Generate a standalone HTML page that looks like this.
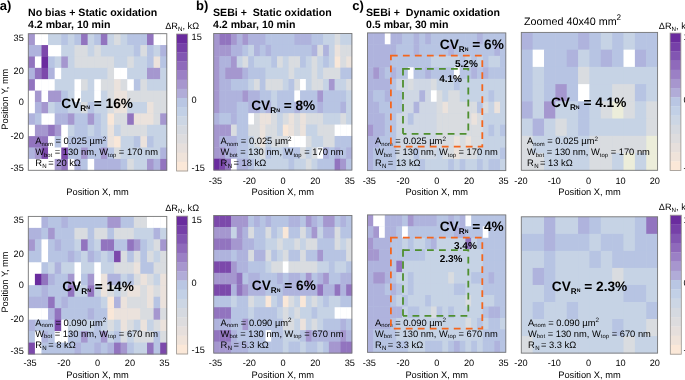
<!DOCTYPE html>
<html><head><meta charset="utf-8"><style>
html,body{margin:0;padding:0;background:#fff;width:685px;height:380px;overflow:hidden;}
svg{display:block;font-family:"Liberation Sans", sans-serif;will-change:transform;}
</style></head><body><svg width="685" height="380" viewBox="0 0 685 380" font-family='"Liberation Sans", sans-serif' fill="#000"><g><rect x="28.3" y="33.7" width="138.5" height="136.60000000000002" fill="#c6d3e5"/><rect x="28.30" y="33.70" width="6.90" height="11.68" fill="#a597cf"/><rect x="34.90" y="33.70" width="6.90" height="11.68" fill="#ffffff"/><rect x="41.49" y="33.70" width="6.90" height="11.68" fill="#ffffff"/><rect x="48.09" y="33.70" width="6.90" height="11.68" fill="#c6d3e5"/><rect x="54.68" y="33.70" width="6.90" height="11.68" fill="#c6d3e5"/><rect x="61.28" y="33.70" width="6.90" height="11.68" fill="#b7c4e3"/><rect x="67.87" y="33.70" width="6.90" height="11.68" fill="#c6d3e5"/><rect x="74.47" y="33.70" width="6.90" height="11.68" fill="#b7c4e3"/><rect x="81.06" y="33.70" width="6.90" height="11.68" fill="#9274bf"/><rect x="87.66" y="33.70" width="6.90" height="11.68" fill="#c6d3e5"/><rect x="94.25" y="33.70" width="6.90" height="11.68" fill="#b7c4e3"/><rect x="100.85" y="33.70" width="6.90" height="11.68" fill="#9274bf"/><rect x="107.44" y="33.70" width="6.90" height="11.68" fill="#c6d3e5"/><rect x="114.04" y="33.70" width="6.90" height="11.68" fill="#d9dce0"/><rect x="120.63" y="33.70" width="6.90" height="11.68" fill="#c6d3e5"/><rect x="127.23" y="33.70" width="6.90" height="11.68" fill="#b7c4e3"/><rect x="133.82" y="33.70" width="6.90" height="11.68" fill="#b7c4e3"/><rect x="140.42" y="33.70" width="6.90" height="11.68" fill="#b7c4e3"/><rect x="147.01" y="33.70" width="6.90" height="11.68" fill="#9274bf"/><rect x="153.61" y="33.70" width="6.90" height="11.68" fill="#ffffff"/><rect x="160.20" y="33.70" width="6.90" height="11.68" fill="#ffffff"/><rect x="28.30" y="45.08" width="6.90" height="11.68" fill="#afb3dd"/><rect x="34.90" y="45.08" width="6.90" height="11.68" fill="#afb3dd"/><rect x="41.49" y="45.08" width="6.90" height="11.68" fill="#7c49ab"/><rect x="48.09" y="45.08" width="6.90" height="11.68" fill="#ffffff"/><rect x="54.68" y="45.08" width="6.90" height="11.68" fill="#ffffff"/><rect x="61.28" y="45.08" width="6.90" height="11.68" fill="#c6d3e5"/><rect x="67.87" y="45.08" width="6.90" height="11.68" fill="#c6d3e5"/><rect x="74.47" y="45.08" width="6.90" height="11.68" fill="#d9dce0"/><rect x="81.06" y="45.08" width="6.90" height="11.68" fill="#d9dce0"/><rect x="87.66" y="45.08" width="6.90" height="11.68" fill="#c6d3e5"/><rect x="94.25" y="45.08" width="6.90" height="11.68" fill="#d9dce0"/><rect x="100.85" y="45.08" width="6.90" height="11.68" fill="#c6d3e5"/><rect x="107.44" y="45.08" width="6.90" height="11.68" fill="#c6d3e5"/><rect x="114.04" y="45.08" width="6.90" height="11.68" fill="#c6d3e5"/><rect x="120.63" y="45.08" width="6.90" height="11.68" fill="#c6d3e5"/><rect x="127.23" y="45.08" width="6.90" height="11.68" fill="#c6d3e5"/><rect x="133.82" y="45.08" width="6.90" height="11.68" fill="#b7c4e3"/><rect x="140.42" y="45.08" width="6.90" height="11.68" fill="#d9dce0"/><rect x="147.01" y="45.08" width="6.90" height="11.68" fill="#b7c4e3"/><rect x="153.61" y="45.08" width="6.90" height="11.68" fill="#c6d3e5"/><rect x="160.20" y="45.08" width="6.90" height="11.68" fill="#afb3dd"/><rect x="28.30" y="56.47" width="6.90" height="11.68" fill="#9274bf"/><rect x="34.90" y="56.47" width="6.90" height="11.68" fill="#ffffff"/><rect x="41.49" y="56.47" width="6.90" height="11.68" fill="#6a2c9e"/><rect x="48.09" y="56.47" width="6.90" height="11.68" fill="#b7c4e3"/><rect x="54.68" y="56.47" width="6.90" height="11.68" fill="#c6d3e5"/><rect x="61.28" y="56.47" width="6.90" height="11.68" fill="#a597cf"/><rect x="67.87" y="56.47" width="6.90" height="11.68" fill="#c6d3e5"/><rect x="74.47" y="56.47" width="6.90" height="11.68" fill="#d9dce0"/><rect x="81.06" y="56.47" width="6.90" height="11.68" fill="#d9dce0"/><rect x="87.66" y="56.47" width="6.90" height="11.68" fill="#d9dce0"/><rect x="94.25" y="56.47" width="6.90" height="11.68" fill="#d9dce0"/><rect x="100.85" y="56.47" width="6.90" height="11.68" fill="#d9dce0"/><rect x="107.44" y="56.47" width="6.90" height="11.68" fill="#d9dce0"/><rect x="114.04" y="56.47" width="6.90" height="11.68" fill="#c6d3e5"/><rect x="120.63" y="56.47" width="6.90" height="11.68" fill="#c6d3e5"/><rect x="127.23" y="56.47" width="6.90" height="11.68" fill="#d9dce0"/><rect x="133.82" y="56.47" width="6.90" height="11.68" fill="#c6d3e5"/><rect x="140.42" y="56.47" width="6.90" height="11.68" fill="#c6d3e5"/><rect x="147.01" y="56.47" width="6.90" height="11.68" fill="#b7c4e3"/><rect x="153.61" y="56.47" width="6.90" height="11.68" fill="#ebe2dc"/><rect x="160.20" y="56.47" width="6.90" height="11.68" fill="#b7c4e3"/><rect x="28.30" y="67.85" width="6.90" height="11.68" fill="#afb3dd"/><rect x="34.90" y="67.85" width="6.90" height="11.68" fill="#9274bf"/><rect x="41.49" y="67.85" width="6.90" height="11.68" fill="#7c49ab"/><rect x="48.09" y="67.85" width="6.90" height="11.68" fill="#afb3dd"/><rect x="54.68" y="67.85" width="6.90" height="11.68" fill="#ffffff"/><rect x="61.28" y="67.85" width="6.90" height="11.68" fill="#c6d3e5"/><rect x="67.87" y="67.85" width="6.90" height="11.68" fill="#c6d3e5"/><rect x="74.47" y="67.85" width="6.90" height="11.68" fill="#c6d3e5"/><rect x="81.06" y="67.85" width="6.90" height="11.68" fill="#c6d3e5"/><rect x="87.66" y="67.85" width="6.90" height="11.68" fill="#c6d3e5"/><rect x="94.25" y="67.85" width="6.90" height="11.68" fill="#c6d3e5"/><rect x="100.85" y="67.85" width="6.90" height="11.68" fill="#c6d3e5"/><rect x="107.44" y="67.85" width="6.90" height="11.68" fill="#d9dce0"/><rect x="114.04" y="67.85" width="6.90" height="11.68" fill="#ffffff"/><rect x="120.63" y="67.85" width="6.90" height="11.68" fill="#ffffff"/><rect x="127.23" y="67.85" width="6.90" height="11.68" fill="#c6d3e5"/><rect x="133.82" y="67.85" width="6.90" height="11.68" fill="#c6d3e5"/><rect x="140.42" y="67.85" width="6.90" height="11.68" fill="#c6d3e5"/><rect x="147.01" y="67.85" width="6.90" height="11.68" fill="#a597cf"/><rect x="153.61" y="67.85" width="6.90" height="11.68" fill="#a597cf"/><rect x="160.20" y="67.85" width="6.90" height="11.68" fill="#c6d3e5"/><rect x="28.30" y="79.23" width="6.90" height="11.68" fill="#9274bf"/><rect x="34.90" y="79.23" width="6.90" height="11.68" fill="#ffffff"/><rect x="41.49" y="79.23" width="6.90" height="11.68" fill="#ffffff"/><rect x="48.09" y="79.23" width="6.90" height="11.68" fill="#ffffff"/><rect x="54.68" y="79.23" width="6.90" height="11.68" fill="#c6d3e5"/><rect x="61.28" y="79.23" width="6.90" height="11.68" fill="#c6d3e5"/><rect x="67.87" y="79.23" width="6.90" height="11.68" fill="#c6d3e5"/><rect x="74.47" y="79.23" width="6.90" height="11.68" fill="#ffffff"/><rect x="81.06" y="79.23" width="6.90" height="11.68" fill="#d9dce0"/><rect x="87.66" y="79.23" width="6.90" height="11.68" fill="#c6d3e5"/><rect x="94.25" y="79.23" width="6.90" height="11.68" fill="#ffffff"/><rect x="100.85" y="79.23" width="6.90" height="11.68" fill="#d9dce0"/><rect x="107.44" y="79.23" width="6.90" height="11.68" fill="#d9dce0"/><rect x="114.04" y="79.23" width="6.90" height="11.68" fill="#ebe2dc"/><rect x="120.63" y="79.23" width="6.90" height="11.68" fill="#d9dce0"/><rect x="127.23" y="79.23" width="6.90" height="11.68" fill="#ffffff"/><rect x="133.82" y="79.23" width="6.90" height="11.68" fill="#b7c4e3"/><rect x="140.42" y="79.23" width="6.90" height="11.68" fill="#d9dce0"/><rect x="147.01" y="79.23" width="6.90" height="11.68" fill="#c6d3e5"/><rect x="153.61" y="79.23" width="6.90" height="11.68" fill="#c6d3e5"/><rect x="160.20" y="79.23" width="6.90" height="11.68" fill="#c6d3e5"/><rect x="28.30" y="90.62" width="6.90" height="11.68" fill="#ffffff"/><rect x="34.90" y="90.62" width="6.90" height="11.68" fill="#a597cf"/><rect x="41.49" y="90.62" width="6.90" height="11.68" fill="#ffffff"/><rect x="48.09" y="90.62" width="6.90" height="11.68" fill="#a597cf"/><rect x="54.68" y="90.62" width="6.90" height="11.68" fill="#a597cf"/><rect x="61.28" y="90.62" width="6.90" height="11.68" fill="#b7c4e3"/><rect x="67.87" y="90.62" width="6.90" height="11.68" fill="#c6d3e5"/><rect x="74.47" y="90.62" width="6.90" height="11.68" fill="#ffffff"/><rect x="81.06" y="90.62" width="6.90" height="11.68" fill="#c6d3e5"/><rect x="87.66" y="90.62" width="6.90" height="11.68" fill="#c6d3e5"/><rect x="94.25" y="90.62" width="6.90" height="11.68" fill="#ffffff"/><rect x="100.85" y="90.62" width="6.90" height="11.68" fill="#c6d3e5"/><rect x="107.44" y="90.62" width="6.90" height="11.68" fill="#d9dce0"/><rect x="114.04" y="90.62" width="6.90" height="11.68" fill="#ebe2dc"/><rect x="120.63" y="90.62" width="6.90" height="11.68" fill="#ebe2dc"/><rect x="127.23" y="90.62" width="6.90" height="11.68" fill="#d9dce0"/><rect x="133.82" y="90.62" width="6.90" height="11.68" fill="#d9dce0"/><rect x="140.42" y="90.62" width="6.90" height="11.68" fill="#d9dce0"/><rect x="147.01" y="90.62" width="6.90" height="11.68" fill="#d9dce0"/><rect x="153.61" y="90.62" width="6.90" height="11.68" fill="#d9dce0"/><rect x="160.20" y="90.62" width="6.90" height="11.68" fill="#d9dce0"/><rect x="28.30" y="102.00" width="6.90" height="11.68" fill="#ffffff"/><rect x="34.90" y="102.00" width="6.90" height="11.68" fill="#afb3dd"/><rect x="41.49" y="102.00" width="6.90" height="11.68" fill="#a597cf"/><rect x="48.09" y="102.00" width="6.90" height="11.68" fill="#c6d3e5"/><rect x="54.68" y="102.00" width="6.90" height="11.68" fill="#b7c4e3"/><rect x="61.28" y="102.00" width="6.90" height="11.68" fill="#b7c4e3"/><rect x="67.87" y="102.00" width="6.90" height="11.68" fill="#c6d3e5"/><rect x="74.47" y="102.00" width="6.90" height="11.68" fill="#c6d3e5"/><rect x="81.06" y="102.00" width="6.90" height="11.68" fill="#d9dce0"/><rect x="87.66" y="102.00" width="6.90" height="11.68" fill="#b7c4e3"/><rect x="94.25" y="102.00" width="6.90" height="11.68" fill="#c6d3e5"/><rect x="100.85" y="102.00" width="6.90" height="11.68" fill="#c6d3e5"/><rect x="107.44" y="102.00" width="6.90" height="11.68" fill="#d9dce0"/><rect x="114.04" y="102.00" width="6.90" height="11.68" fill="#ebe2dc"/><rect x="120.63" y="102.00" width="6.90" height="11.68" fill="#ebe2dc"/><rect x="127.23" y="102.00" width="6.90" height="11.68" fill="#c6d3e5"/><rect x="133.82" y="102.00" width="6.90" height="11.68" fill="#c6d3e5"/><rect x="140.42" y="102.00" width="6.90" height="11.68" fill="#c6d3e5"/><rect x="147.01" y="102.00" width="6.90" height="11.68" fill="#ebe2dc"/><rect x="153.61" y="102.00" width="6.90" height="11.68" fill="#d9dce0"/><rect x="160.20" y="102.00" width="6.90" height="11.68" fill="#d9dce0"/><rect x="28.30" y="113.38" width="6.90" height="11.68" fill="#afb3dd"/><rect x="34.90" y="113.38" width="6.90" height="11.68" fill="#b7c4e3"/><rect x="41.49" y="113.38" width="6.90" height="11.68" fill="#ffffff"/><rect x="48.09" y="113.38" width="6.90" height="11.68" fill="#ffffff"/><rect x="54.68" y="113.38" width="6.90" height="11.68" fill="#afb3dd"/><rect x="61.28" y="113.38" width="6.90" height="11.68" fill="#afb3dd"/><rect x="67.87" y="113.38" width="6.90" height="11.68" fill="#a597cf"/><rect x="74.47" y="113.38" width="6.90" height="11.68" fill="#b7c4e3"/><rect x="81.06" y="113.38" width="6.90" height="11.68" fill="#b7c4e3"/><rect x="87.66" y="113.38" width="6.90" height="11.68" fill="#a597cf"/><rect x="94.25" y="113.38" width="6.90" height="11.68" fill="#b7c4e3"/><rect x="100.85" y="113.38" width="6.90" height="11.68" fill="#c6d3e5"/><rect x="107.44" y="113.38" width="6.90" height="11.68" fill="#f9e7d8"/><rect x="114.04" y="113.38" width="6.90" height="11.68" fill="#d9dce0"/><rect x="120.63" y="113.38" width="6.90" height="11.68" fill="#d9dce0"/><rect x="127.23" y="113.38" width="6.90" height="11.68" fill="#9274bf"/><rect x="133.82" y="113.38" width="6.90" height="11.68" fill="#ebe2dc"/><rect x="140.42" y="113.38" width="6.90" height="11.68" fill="#ebe2dc"/><rect x="147.01" y="113.38" width="6.90" height="11.68" fill="#ebe2dc"/><rect x="153.61" y="113.38" width="6.90" height="11.68" fill="#d9dce0"/><rect x="160.20" y="113.38" width="6.90" height="11.68" fill="#a597cf"/><rect x="28.30" y="124.77" width="6.90" height="11.68" fill="#ffffff"/><rect x="34.90" y="124.77" width="6.90" height="11.68" fill="#a597cf"/><rect x="41.49" y="124.77" width="6.90" height="11.68" fill="#a597cf"/><rect x="48.09" y="124.77" width="6.90" height="11.68" fill="#9274bf"/><rect x="54.68" y="124.77" width="6.90" height="11.68" fill="#a597cf"/><rect x="61.28" y="124.77" width="6.90" height="11.68" fill="#ffffff"/><rect x="67.87" y="124.77" width="6.90" height="11.68" fill="#c6d3e5"/><rect x="74.47" y="124.77" width="6.90" height="11.68" fill="#b7c4e3"/><rect x="81.06" y="124.77" width="6.90" height="11.68" fill="#b7c4e3"/><rect x="87.66" y="124.77" width="6.90" height="11.68" fill="#c6d3e5"/><rect x="94.25" y="124.77" width="6.90" height="11.68" fill="#b7c4e3"/><rect x="100.85" y="124.77" width="6.90" height="11.68" fill="#c6d3e5"/><rect x="107.44" y="124.77" width="6.90" height="11.68" fill="#ebe2dc"/><rect x="114.04" y="124.77" width="6.90" height="11.68" fill="#c6d3e5"/><rect x="120.63" y="124.77" width="6.90" height="11.68" fill="#d9dce0"/><rect x="127.23" y="124.77" width="6.90" height="11.68" fill="#d9dce0"/><rect x="133.82" y="124.77" width="6.90" height="11.68" fill="#d9dce0"/><rect x="140.42" y="124.77" width="6.90" height="11.68" fill="#d9dce0"/><rect x="147.01" y="124.77" width="6.90" height="11.68" fill="#c6d3e5"/><rect x="153.61" y="124.77" width="6.90" height="11.68" fill="#c6d3e5"/><rect x="160.20" y="124.77" width="6.90" height="11.68" fill="#c6d3e5"/><rect x="28.30" y="136.15" width="6.90" height="11.68" fill="#9274bf"/><rect x="34.90" y="136.15" width="6.90" height="11.68" fill="#9274bf"/><rect x="41.49" y="136.15" width="6.90" height="11.68" fill="#9274bf"/><rect x="48.09" y="136.15" width="6.90" height="11.68" fill="#ffffff"/><rect x="54.68" y="136.15" width="6.90" height="11.68" fill="#b7c4e3"/><rect x="61.28" y="136.15" width="6.90" height="11.68" fill="#ffffff"/><rect x="67.87" y="136.15" width="6.90" height="11.68" fill="#b7c4e3"/><rect x="74.47" y="136.15" width="6.90" height="11.68" fill="#b7c4e3"/><rect x="81.06" y="136.15" width="6.90" height="11.68" fill="#b7c4e3"/><rect x="87.66" y="136.15" width="6.90" height="11.68" fill="#b7c4e3"/><rect x="94.25" y="136.15" width="6.90" height="11.68" fill="#b7c4e3"/><rect x="100.85" y="136.15" width="6.90" height="11.68" fill="#b7c4e3"/><rect x="107.44" y="136.15" width="6.90" height="11.68" fill="#ebe2dc"/><rect x="114.04" y="136.15" width="6.90" height="11.68" fill="#f9e7d8"/><rect x="120.63" y="136.15" width="6.90" height="11.68" fill="#c6d3e5"/><rect x="127.23" y="136.15" width="6.90" height="11.68" fill="#c6d3e5"/><rect x="133.82" y="136.15" width="6.90" height="11.68" fill="#b7c4e3"/><rect x="140.42" y="136.15" width="6.90" height="11.68" fill="#ebe2dc"/><rect x="147.01" y="136.15" width="6.90" height="11.68" fill="#b7c4e3"/><rect x="153.61" y="136.15" width="6.90" height="11.68" fill="#c6d3e5"/><rect x="160.20" y="136.15" width="6.90" height="11.68" fill="#c6d3e5"/><rect x="28.30" y="147.53" width="6.90" height="11.68" fill="#afb3dd"/><rect x="34.90" y="147.53" width="6.90" height="11.68" fill="#a597cf"/><rect x="41.49" y="147.53" width="6.90" height="11.68" fill="#7c49ab"/><rect x="48.09" y="147.53" width="6.90" height="11.68" fill="#ffffff"/><rect x="54.68" y="147.53" width="6.90" height="11.68" fill="#ffffff"/><rect x="61.28" y="147.53" width="6.90" height="11.68" fill="#7c49ab"/><rect x="67.87" y="147.53" width="6.90" height="11.68" fill="#b7c4e3"/><rect x="74.47" y="147.53" width="6.90" height="11.68" fill="#b7c4e3"/><rect x="81.06" y="147.53" width="6.90" height="11.68" fill="#a597cf"/><rect x="87.66" y="147.53" width="6.90" height="11.68" fill="#b7c4e3"/><rect x="94.25" y="147.53" width="6.90" height="11.68" fill="#b7c4e3"/><rect x="100.85" y="147.53" width="6.90" height="11.68" fill="#a597cf"/><rect x="107.44" y="147.53" width="6.90" height="11.68" fill="#b7c4e3"/><rect x="114.04" y="147.53" width="6.90" height="11.68" fill="#d9dce0"/><rect x="120.63" y="147.53" width="6.90" height="11.68" fill="#c6d3e5"/><rect x="127.23" y="147.53" width="6.90" height="11.68" fill="#c6d3e5"/><rect x="133.82" y="147.53" width="6.90" height="11.68" fill="#c6d3e5"/><rect x="140.42" y="147.53" width="6.90" height="11.68" fill="#c6d3e5"/><rect x="147.01" y="147.53" width="6.90" height="11.68" fill="#c6d3e5"/><rect x="153.61" y="147.53" width="6.90" height="11.68" fill="#c6d3e5"/><rect x="160.20" y="147.53" width="6.90" height="11.68" fill="#afb3dd"/><rect x="28.30" y="158.92" width="6.90" height="11.68" fill="#ffffff"/><rect x="34.90" y="158.92" width="6.90" height="11.68" fill="#ffffff"/><rect x="41.49" y="158.92" width="6.90" height="11.68" fill="#ffffff"/><rect x="48.09" y="158.92" width="6.90" height="11.68" fill="#ffffff"/><rect x="54.68" y="158.92" width="6.90" height="11.68" fill="#a597cf"/><rect x="61.28" y="158.92" width="6.90" height="11.68" fill="#9274bf"/><rect x="67.87" y="158.92" width="6.90" height="11.68" fill="#ffffff"/><rect x="74.47" y="158.92" width="6.90" height="11.68" fill="#afb3dd"/><rect x="81.06" y="158.92" width="6.90" height="11.68" fill="#b7c4e3"/><rect x="87.66" y="158.92" width="6.90" height="11.68" fill="#ffffff"/><rect x="94.25" y="158.92" width="6.90" height="11.68" fill="#afb3dd"/><rect x="100.85" y="158.92" width="6.90" height="11.68" fill="#afb3dd"/><rect x="107.44" y="158.92" width="6.90" height="11.68" fill="#afb3dd"/><rect x="114.04" y="158.92" width="6.90" height="11.68" fill="#afb3dd"/><rect x="120.63" y="158.92" width="6.90" height="11.68" fill="#b7c4e3"/><rect x="127.23" y="158.92" width="6.90" height="11.68" fill="#d9dce0"/><rect x="133.82" y="158.92" width="6.90" height="11.68" fill="#c6d3e5"/><rect x="140.42" y="158.92" width="6.90" height="11.68" fill="#c6d3e5"/><rect x="147.01" y="158.92" width="6.90" height="11.68" fill="#a597cf"/><rect x="153.61" y="158.92" width="6.90" height="11.68" fill="#afb3dd"/><rect x="160.20" y="158.92" width="6.90" height="11.68" fill="#9274bf"/><rect x="28.3" y="33.7" width="138.5" height="136.60000000000002" fill="none" stroke="#777" stroke-width="0.9"/><rect x="213.7" y="33.5" width="138.2" height="136.6" fill="#c6d3e5"/><rect x="213.70" y="33.50" width="6.06" height="11.68" fill="#a597cf"/><rect x="219.46" y="33.50" width="6.06" height="11.68" fill="#9274bf"/><rect x="225.22" y="33.50" width="6.06" height="11.68" fill="#9274bf"/><rect x="230.97" y="33.50" width="6.06" height="11.68" fill="#a597cf"/><rect x="236.73" y="33.50" width="6.06" height="11.68" fill="#afb3dd"/><rect x="242.49" y="33.50" width="6.06" height="11.68" fill="#a597cf"/><rect x="248.25" y="33.50" width="6.06" height="11.68" fill="#afb3dd"/><rect x="254.01" y="33.50" width="6.06" height="11.68" fill="#afb3dd"/><rect x="259.77" y="33.50" width="6.06" height="11.68" fill="#afb3dd"/><rect x="265.52" y="33.50" width="6.06" height="11.68" fill="#b7c4e3"/><rect x="271.28" y="33.50" width="6.06" height="11.68" fill="#b7c4e3"/><rect x="277.04" y="33.50" width="6.06" height="11.68" fill="#b7c4e3"/><rect x="282.80" y="33.50" width="6.06" height="11.68" fill="#b7c4e3"/><rect x="288.56" y="33.50" width="6.06" height="11.68" fill="#b7c4e3"/><rect x="294.32" y="33.50" width="6.06" height="11.68" fill="#afb3dd"/><rect x="300.07" y="33.50" width="6.06" height="11.68" fill="#afb3dd"/><rect x="305.83" y="33.50" width="6.06" height="11.68" fill="#afb3dd"/><rect x="311.59" y="33.50" width="6.06" height="11.68" fill="#b7c4e3"/><rect x="317.35" y="33.50" width="6.06" height="11.68" fill="#b7c4e3"/><rect x="323.11" y="33.50" width="6.06" height="11.68" fill="#c6d3e5"/><rect x="328.87" y="33.50" width="6.06" height="11.68" fill="#c6d3e5"/><rect x="334.62" y="33.50" width="6.06" height="11.68" fill="#d9dce0"/><rect x="340.38" y="33.50" width="6.06" height="11.68" fill="#c6d3e5"/><rect x="346.14" y="33.50" width="6.06" height="11.68" fill="#c6d3e5"/><rect x="213.70" y="44.88" width="6.06" height="11.68" fill="#a597cf"/><rect x="219.46" y="44.88" width="6.06" height="11.68" fill="#a597cf"/><rect x="225.22" y="44.88" width="6.06" height="11.68" fill="#a597cf"/><rect x="230.97" y="44.88" width="6.06" height="11.68" fill="#afb3dd"/><rect x="236.73" y="44.88" width="6.06" height="11.68" fill="#afb3dd"/><rect x="242.49" y="44.88" width="6.06" height="11.68" fill="#b7c4e3"/><rect x="248.25" y="44.88" width="6.06" height="11.68" fill="#c6d3e5"/><rect x="254.01" y="44.88" width="6.06" height="11.68" fill="#afb3dd"/><rect x="259.77" y="44.88" width="6.06" height="11.68" fill="#b7c4e3"/><rect x="265.52" y="44.88" width="6.06" height="11.68" fill="#afb3dd"/><rect x="271.28" y="44.88" width="6.06" height="11.68" fill="#b7c4e3"/><rect x="277.04" y="44.88" width="6.06" height="11.68" fill="#b7c4e3"/><rect x="282.80" y="44.88" width="6.06" height="11.68" fill="#b7c4e3"/><rect x="288.56" y="44.88" width="6.06" height="11.68" fill="#b7c4e3"/><rect x="294.32" y="44.88" width="6.06" height="11.68" fill="#b7c4e3"/><rect x="300.07" y="44.88" width="6.06" height="11.68" fill="#b7c4e3"/><rect x="305.83" y="44.88" width="6.06" height="11.68" fill="#b7c4e3"/><rect x="311.59" y="44.88" width="6.06" height="11.68" fill="#afb3dd"/><rect x="317.35" y="44.88" width="6.06" height="11.68" fill="#d9dce0"/><rect x="323.11" y="44.88" width="6.06" height="11.68" fill="#afb3dd"/><rect x="328.87" y="44.88" width="6.06" height="11.68" fill="#c6d3e5"/><rect x="334.62" y="44.88" width="6.06" height="11.68" fill="#ebe2dc"/><rect x="340.38" y="44.88" width="6.06" height="11.68" fill="#d9dce0"/><rect x="346.14" y="44.88" width="6.06" height="11.68" fill="#d9dce0"/><rect x="213.70" y="56.27" width="6.06" height="11.68" fill="#a597cf"/><rect x="219.46" y="56.27" width="6.06" height="11.68" fill="#afb3dd"/><rect x="225.22" y="56.27" width="6.06" height="11.68" fill="#afb3dd"/><rect x="230.97" y="56.27" width="6.06" height="11.68" fill="#a597cf"/><rect x="236.73" y="56.27" width="6.06" height="11.68" fill="#c6d3e5"/><rect x="242.49" y="56.27" width="6.06" height="11.68" fill="#d9dce0"/><rect x="248.25" y="56.27" width="6.06" height="11.68" fill="#b7c4e3"/><rect x="254.01" y="56.27" width="6.06" height="11.68" fill="#c6d3e5"/><rect x="259.77" y="56.27" width="6.06" height="11.68" fill="#c6d3e5"/><rect x="265.52" y="56.27" width="6.06" height="11.68" fill="#c6d3e5"/><rect x="271.28" y="56.27" width="6.06" height="11.68" fill="#b7c4e3"/><rect x="277.04" y="56.27" width="6.06" height="11.68" fill="#d9dce0"/><rect x="282.80" y="56.27" width="6.06" height="11.68" fill="#c6d3e5"/><rect x="288.56" y="56.27" width="6.06" height="11.68" fill="#d9dce0"/><rect x="294.32" y="56.27" width="6.06" height="11.68" fill="#d9dce0"/><rect x="300.07" y="56.27" width="6.06" height="11.68" fill="#b7c4e3"/><rect x="305.83" y="56.27" width="6.06" height="11.68" fill="#c6d3e5"/><rect x="311.59" y="56.27" width="6.06" height="11.68" fill="#d9dce0"/><rect x="317.35" y="56.27" width="6.06" height="11.68" fill="#c6d3e5"/><rect x="323.11" y="56.27" width="6.06" height="11.68" fill="#b7c4e3"/><rect x="328.87" y="56.27" width="6.06" height="11.68" fill="#c6d3e5"/><rect x="334.62" y="56.27" width="6.06" height="11.68" fill="#f9e7d8"/><rect x="340.38" y="56.27" width="6.06" height="11.68" fill="#d9dce0"/><rect x="346.14" y="56.27" width="6.06" height="11.68" fill="#ebe2dc"/><rect x="213.70" y="67.65" width="6.06" height="11.68" fill="#a597cf"/><rect x="219.46" y="67.65" width="6.06" height="11.68" fill="#afb3dd"/><rect x="225.22" y="67.65" width="6.06" height="11.68" fill="#a597cf"/><rect x="230.97" y="67.65" width="6.06" height="11.68" fill="#a597cf"/><rect x="236.73" y="67.65" width="6.06" height="11.68" fill="#a597cf"/><rect x="242.49" y="67.65" width="6.06" height="11.68" fill="#afb3dd"/><rect x="248.25" y="67.65" width="6.06" height="11.68" fill="#b7c4e3"/><rect x="254.01" y="67.65" width="6.06" height="11.68" fill="#b7c4e3"/><rect x="259.77" y="67.65" width="6.06" height="11.68" fill="#b7c4e3"/><rect x="265.52" y="67.65" width="6.06" height="11.68" fill="#c6d3e5"/><rect x="271.28" y="67.65" width="6.06" height="11.68" fill="#c6d3e5"/><rect x="277.04" y="67.65" width="6.06" height="11.68" fill="#c6d3e5"/><rect x="282.80" y="67.65" width="6.06" height="11.68" fill="#c6d3e5"/><rect x="288.56" y="67.65" width="6.06" height="11.68" fill="#d9dce0"/><rect x="294.32" y="67.65" width="6.06" height="11.68" fill="#c6d3e5"/><rect x="300.07" y="67.65" width="6.06" height="11.68" fill="#c6d3e5"/><rect x="305.83" y="67.65" width="6.06" height="11.68" fill="#c6d3e5"/><rect x="311.59" y="67.65" width="6.06" height="11.68" fill="#d9dce0"/><rect x="317.35" y="67.65" width="6.06" height="11.68" fill="#c6d3e5"/><rect x="323.11" y="67.65" width="6.06" height="11.68" fill="#d9dce0"/><rect x="328.87" y="67.65" width="6.06" height="11.68" fill="#d9dce0"/><rect x="334.62" y="67.65" width="6.06" height="11.68" fill="#d9dce0"/><rect x="340.38" y="67.65" width="6.06" height="11.68" fill="#b7c4e3"/><rect x="346.14" y="67.65" width="6.06" height="11.68" fill="#b7c4e3"/><rect x="213.70" y="79.03" width="6.06" height="11.68" fill="#a597cf"/><rect x="219.46" y="79.03" width="6.06" height="11.68" fill="#afb3dd"/><rect x="225.22" y="79.03" width="6.06" height="11.68" fill="#afb3dd"/><rect x="230.97" y="79.03" width="6.06" height="11.68" fill="#b7c4e3"/><rect x="236.73" y="79.03" width="6.06" height="11.68" fill="#b7c4e3"/><rect x="242.49" y="79.03" width="6.06" height="11.68" fill="#b7c4e3"/><rect x="248.25" y="79.03" width="6.06" height="11.68" fill="#c6d3e5"/><rect x="254.01" y="79.03" width="6.06" height="11.68" fill="#d9dce0"/><rect x="259.77" y="79.03" width="6.06" height="11.68" fill="#b7c4e3"/><rect x="265.52" y="79.03" width="6.06" height="11.68" fill="#d9dce0"/><rect x="271.28" y="79.03" width="6.06" height="11.68" fill="#d9dce0"/><rect x="277.04" y="79.03" width="6.06" height="11.68" fill="#d9dce0"/><rect x="282.80" y="79.03" width="6.06" height="11.68" fill="#c6d3e5"/><rect x="288.56" y="79.03" width="6.06" height="11.68" fill="#b7c4e3"/><rect x="294.32" y="79.03" width="6.06" height="11.68" fill="#d9dce0"/><rect x="300.07" y="79.03" width="6.06" height="11.68" fill="#ffffff"/><rect x="305.83" y="79.03" width="6.06" height="11.68" fill="#c6d3e5"/><rect x="311.59" y="79.03" width="6.06" height="11.68" fill="#d9dce0"/><rect x="317.35" y="79.03" width="6.06" height="11.68" fill="#d9dce0"/><rect x="323.11" y="79.03" width="6.06" height="11.68" fill="#c6d3e5"/><rect x="328.87" y="79.03" width="6.06" height="11.68" fill="#a597cf"/><rect x="334.62" y="79.03" width="6.06" height="11.68" fill="#c6d3e5"/><rect x="340.38" y="79.03" width="6.06" height="11.68" fill="#c6d3e5"/><rect x="346.14" y="79.03" width="6.06" height="11.68" fill="#d9dce0"/><rect x="213.70" y="90.42" width="6.06" height="11.68" fill="#a597cf"/><rect x="219.46" y="90.42" width="6.06" height="11.68" fill="#afb3dd"/><rect x="225.22" y="90.42" width="6.06" height="11.68" fill="#afb3dd"/><rect x="230.97" y="90.42" width="6.06" height="11.68" fill="#afb3dd"/><rect x="236.73" y="90.42" width="6.06" height="11.68" fill="#afb3dd"/><rect x="242.49" y="90.42" width="6.06" height="11.68" fill="#a597cf"/><rect x="248.25" y="90.42" width="6.06" height="11.68" fill="#afb3dd"/><rect x="254.01" y="90.42" width="6.06" height="11.68" fill="#afb3dd"/><rect x="259.77" y="90.42" width="6.06" height="11.68" fill="#b7c4e3"/><rect x="265.52" y="90.42" width="6.06" height="11.68" fill="#b7c4e3"/><rect x="271.28" y="90.42" width="6.06" height="11.68" fill="#c6d3e5"/><rect x="277.04" y="90.42" width="6.06" height="11.68" fill="#b7c4e3"/><rect x="282.80" y="90.42" width="6.06" height="11.68" fill="#b7c4e3"/><rect x="288.56" y="90.42" width="6.06" height="11.68" fill="#b7c4e3"/><rect x="294.32" y="90.42" width="6.06" height="11.68" fill="#ffffff"/><rect x="300.07" y="90.42" width="6.06" height="11.68" fill="#b7c4e3"/><rect x="305.83" y="90.42" width="6.06" height="11.68" fill="#b7c4e3"/><rect x="311.59" y="90.42" width="6.06" height="11.68" fill="#b7c4e3"/><rect x="317.35" y="90.42" width="6.06" height="11.68" fill="#a597cf"/><rect x="323.11" y="90.42" width="6.06" height="11.68" fill="#b7c4e3"/><rect x="328.87" y="90.42" width="6.06" height="11.68" fill="#b7c4e3"/><rect x="334.62" y="90.42" width="6.06" height="11.68" fill="#b7c4e3"/><rect x="340.38" y="90.42" width="6.06" height="11.68" fill="#b7c4e3"/><rect x="346.14" y="90.42" width="6.06" height="11.68" fill="#c6d3e5"/><rect x="213.70" y="101.80" width="6.06" height="11.68" fill="#a597cf"/><rect x="219.46" y="101.80" width="6.06" height="11.68" fill="#afb3dd"/><rect x="225.22" y="101.80" width="6.06" height="11.68" fill="#afb3dd"/><rect x="230.97" y="101.80" width="6.06" height="11.68" fill="#afb3dd"/><rect x="236.73" y="101.80" width="6.06" height="11.68" fill="#b7c4e3"/><rect x="242.49" y="101.80" width="6.06" height="11.68" fill="#b7c4e3"/><rect x="248.25" y="101.80" width="6.06" height="11.68" fill="#afb3dd"/><rect x="254.01" y="101.80" width="6.06" height="11.68" fill="#afb3dd"/><rect x="259.77" y="101.80" width="6.06" height="11.68" fill="#b7c4e3"/><rect x="265.52" y="101.80" width="6.06" height="11.68" fill="#afb3dd"/><rect x="271.28" y="101.80" width="6.06" height="11.68" fill="#c6d3e5"/><rect x="277.04" y="101.80" width="6.06" height="11.68" fill="#b7c4e3"/><rect x="282.80" y="101.80" width="6.06" height="11.68" fill="#b7c4e3"/><rect x="288.56" y="101.80" width="6.06" height="11.68" fill="#b7c4e3"/><rect x="294.32" y="101.80" width="6.06" height="11.68" fill="#afb3dd"/><rect x="300.07" y="101.80" width="6.06" height="11.68" fill="#b7c4e3"/><rect x="305.83" y="101.80" width="6.06" height="11.68" fill="#b7c4e3"/><rect x="311.59" y="101.80" width="6.06" height="11.68" fill="#b7c4e3"/><rect x="317.35" y="101.80" width="6.06" height="11.68" fill="#afb3dd"/><rect x="323.11" y="101.80" width="6.06" height="11.68" fill="#b7c4e3"/><rect x="328.87" y="101.80" width="6.06" height="11.68" fill="#b7c4e3"/><rect x="334.62" y="101.80" width="6.06" height="11.68" fill="#b7c4e3"/><rect x="340.38" y="101.80" width="6.06" height="11.68" fill="#afb3dd"/><rect x="346.14" y="101.80" width="6.06" height="11.68" fill="#c6d3e5"/><rect x="213.70" y="113.18" width="6.06" height="11.68" fill="#afb3dd"/><rect x="219.46" y="113.18" width="6.06" height="11.68" fill="#b7c4e3"/><rect x="225.22" y="113.18" width="6.06" height="11.68" fill="#b7c4e3"/><rect x="230.97" y="113.18" width="6.06" height="11.68" fill="#afb3dd"/><rect x="236.73" y="113.18" width="6.06" height="11.68" fill="#b7c4e3"/><rect x="242.49" y="113.18" width="6.06" height="11.68" fill="#b7c4e3"/><rect x="248.25" y="113.18" width="6.06" height="11.68" fill="#ffffff"/><rect x="254.01" y="113.18" width="6.06" height="11.68" fill="#d9dce0"/><rect x="259.77" y="113.18" width="6.06" height="11.68" fill="#ebe2dc"/><rect x="265.52" y="113.18" width="6.06" height="11.68" fill="#ebe2dc"/><rect x="271.28" y="113.18" width="6.06" height="11.68" fill="#d9dce0"/><rect x="277.04" y="113.18" width="6.06" height="11.68" fill="#c6d3e5"/><rect x="282.80" y="113.18" width="6.06" height="11.68" fill="#d9dce0"/><rect x="288.56" y="113.18" width="6.06" height="11.68" fill="#ebe2dc"/><rect x="294.32" y="113.18" width="6.06" height="11.68" fill="#d9dce0"/><rect x="300.07" y="113.18" width="6.06" height="11.68" fill="#ebe2dc"/><rect x="305.83" y="113.18" width="6.06" height="11.68" fill="#d9dce0"/><rect x="311.59" y="113.18" width="6.06" height="11.68" fill="#d9dce0"/><rect x="317.35" y="113.18" width="6.06" height="11.68" fill="#d9dce0"/><rect x="323.11" y="113.18" width="6.06" height="11.68" fill="#c6d3e5"/><rect x="328.87" y="113.18" width="6.06" height="11.68" fill="#c6d3e5"/><rect x="334.62" y="113.18" width="6.06" height="11.68" fill="#c6d3e5"/><rect x="340.38" y="113.18" width="6.06" height="11.68" fill="#d9dce0"/><rect x="346.14" y="113.18" width="6.06" height="11.68" fill="#c6d3e5"/><rect x="213.70" y="124.57" width="6.06" height="11.68" fill="#a597cf"/><rect x="219.46" y="124.57" width="6.06" height="11.68" fill="#a597cf"/><rect x="225.22" y="124.57" width="6.06" height="11.68" fill="#a597cf"/><rect x="230.97" y="124.57" width="6.06" height="11.68" fill="#d9dce0"/><rect x="236.73" y="124.57" width="6.06" height="11.68" fill="#b7c4e3"/><rect x="242.49" y="124.57" width="6.06" height="11.68" fill="#b7c4e3"/><rect x="248.25" y="124.57" width="6.06" height="11.68" fill="#d9dce0"/><rect x="254.01" y="124.57" width="6.06" height="11.68" fill="#d9dce0"/><rect x="259.77" y="124.57" width="6.06" height="11.68" fill="#ebe2dc"/><rect x="265.52" y="124.57" width="6.06" height="11.68" fill="#d9dce0"/><rect x="271.28" y="124.57" width="6.06" height="11.68" fill="#d9dce0"/><rect x="277.04" y="124.57" width="6.06" height="11.68" fill="#c6d3e5"/><rect x="282.80" y="124.57" width="6.06" height="11.68" fill="#f9e7d8"/><rect x="288.56" y="124.57" width="6.06" height="11.68" fill="#ebe2dc"/><rect x="294.32" y="124.57" width="6.06" height="11.68" fill="#d9dce0"/><rect x="300.07" y="124.57" width="6.06" height="11.68" fill="#ebe2dc"/><rect x="305.83" y="124.57" width="6.06" height="11.68" fill="#c6d3e5"/><rect x="311.59" y="124.57" width="6.06" height="11.68" fill="#c6d3e5"/><rect x="317.35" y="124.57" width="6.06" height="11.68" fill="#d9dce0"/><rect x="323.11" y="124.57" width="6.06" height="11.68" fill="#d9dce0"/><rect x="328.87" y="124.57" width="6.06" height="11.68" fill="#d9dce0"/><rect x="334.62" y="124.57" width="6.06" height="11.68" fill="#ffffff"/><rect x="340.38" y="124.57" width="6.06" height="11.68" fill="#ffffff"/><rect x="346.14" y="124.57" width="6.06" height="11.68" fill="#ffffff"/><rect x="213.70" y="135.95" width="6.06" height="11.68" fill="#a597cf"/><rect x="219.46" y="135.95" width="6.06" height="11.68" fill="#afb3dd"/><rect x="225.22" y="135.95" width="6.06" height="11.68" fill="#afb3dd"/><rect x="230.97" y="135.95" width="6.06" height="11.68" fill="#afb3dd"/><rect x="236.73" y="135.95" width="6.06" height="11.68" fill="#b7c4e3"/><rect x="242.49" y="135.95" width="6.06" height="11.68" fill="#b7c4e3"/><rect x="248.25" y="135.95" width="6.06" height="11.68" fill="#c6d3e5"/><rect x="254.01" y="135.95" width="6.06" height="11.68" fill="#d9dce0"/><rect x="259.77" y="135.95" width="6.06" height="11.68" fill="#ebe2dc"/><rect x="265.52" y="135.95" width="6.06" height="11.68" fill="#c6d3e5"/><rect x="271.28" y="135.95" width="6.06" height="11.68" fill="#d9dce0"/><rect x="277.04" y="135.95" width="6.06" height="11.68" fill="#d9dce0"/><rect x="282.80" y="135.95" width="6.06" height="11.68" fill="#d9dce0"/><rect x="288.56" y="135.95" width="6.06" height="11.68" fill="#ffffff"/><rect x="294.32" y="135.95" width="6.06" height="11.68" fill="#ffffff"/><rect x="300.07" y="135.95" width="6.06" height="11.68" fill="#ffffff"/><rect x="305.83" y="135.95" width="6.06" height="11.68" fill="#d9dce0"/><rect x="311.59" y="135.95" width="6.06" height="11.68" fill="#c6d3e5"/><rect x="317.35" y="135.95" width="6.06" height="11.68" fill="#c6d3e5"/><rect x="323.11" y="135.95" width="6.06" height="11.68" fill="#d9dce0"/><rect x="328.87" y="135.95" width="6.06" height="11.68" fill="#d9dce0"/><rect x="334.62" y="135.95" width="6.06" height="11.68" fill="#b7c4e3"/><rect x="340.38" y="135.95" width="6.06" height="11.68" fill="#b7c4e3"/><rect x="346.14" y="135.95" width="6.06" height="11.68" fill="#b7c4e3"/><rect x="213.70" y="147.33" width="6.06" height="11.68" fill="#a597cf"/><rect x="219.46" y="147.33" width="6.06" height="11.68" fill="#a597cf"/><rect x="225.22" y="147.33" width="6.06" height="11.68" fill="#afb3dd"/><rect x="230.97" y="147.33" width="6.06" height="11.68" fill="#afb3dd"/><rect x="236.73" y="147.33" width="6.06" height="11.68" fill="#b7c4e3"/><rect x="242.49" y="147.33" width="6.06" height="11.68" fill="#b7c4e3"/><rect x="248.25" y="147.33" width="6.06" height="11.68" fill="#c6d3e5"/><rect x="254.01" y="147.33" width="6.06" height="11.68" fill="#c6d3e5"/><rect x="259.77" y="147.33" width="6.06" height="11.68" fill="#d9dce0"/><rect x="265.52" y="147.33" width="6.06" height="11.68" fill="#b7c4e3"/><rect x="271.28" y="147.33" width="6.06" height="11.68" fill="#c6d3e5"/><rect x="277.04" y="147.33" width="6.06" height="11.68" fill="#c6d3e5"/><rect x="282.80" y="147.33" width="6.06" height="11.68" fill="#b7c4e3"/><rect x="288.56" y="147.33" width="6.06" height="11.68" fill="#b7c4e3"/><rect x="294.32" y="147.33" width="6.06" height="11.68" fill="#b7c4e3"/><rect x="300.07" y="147.33" width="6.06" height="11.68" fill="#d9dce0"/><rect x="305.83" y="147.33" width="6.06" height="11.68" fill="#c6d3e5"/><rect x="311.59" y="147.33" width="6.06" height="11.68" fill="#d9dce0"/><rect x="317.35" y="147.33" width="6.06" height="11.68" fill="#ffffff"/><rect x="323.11" y="147.33" width="6.06" height="11.68" fill="#afb3dd"/><rect x="328.87" y="147.33" width="6.06" height="11.68" fill="#b7c4e3"/><rect x="334.62" y="147.33" width="6.06" height="11.68" fill="#afb3dd"/><rect x="340.38" y="147.33" width="6.06" height="11.68" fill="#b7c4e3"/><rect x="346.14" y="147.33" width="6.06" height="11.68" fill="#afb3dd"/><rect x="213.70" y="158.72" width="6.06" height="11.68" fill="#6a2c9e"/><rect x="219.46" y="158.72" width="6.06" height="11.68" fill="#7c49ab"/><rect x="225.22" y="158.72" width="6.06" height="11.68" fill="#9274bf"/><rect x="230.97" y="158.72" width="6.06" height="11.68" fill="#ffffff"/><rect x="236.73" y="158.72" width="6.06" height="11.68" fill="#afb3dd"/><rect x="242.49" y="158.72" width="6.06" height="11.68" fill="#afb3dd"/><rect x="248.25" y="158.72" width="6.06" height="11.68" fill="#b7c4e3"/><rect x="254.01" y="158.72" width="6.06" height="11.68" fill="#c6d3e5"/><rect x="259.77" y="158.72" width="6.06" height="11.68" fill="#c6d3e5"/><rect x="265.52" y="158.72" width="6.06" height="11.68" fill="#c6d3e5"/><rect x="271.28" y="158.72" width="6.06" height="11.68" fill="#c6d3e5"/><rect x="277.04" y="158.72" width="6.06" height="11.68" fill="#c6d3e5"/><rect x="282.80" y="158.72" width="6.06" height="11.68" fill="#c6d3e5"/><rect x="288.56" y="158.72" width="6.06" height="11.68" fill="#b7c4e3"/><rect x="294.32" y="158.72" width="6.06" height="11.68" fill="#c6d3e5"/><rect x="300.07" y="158.72" width="6.06" height="11.68" fill="#c6d3e5"/><rect x="305.83" y="158.72" width="6.06" height="11.68" fill="#d9dce0"/><rect x="311.59" y="158.72" width="6.06" height="11.68" fill="#c6d3e5"/><rect x="317.35" y="158.72" width="6.06" height="11.68" fill="#b7c4e3"/><rect x="323.11" y="158.72" width="6.06" height="11.68" fill="#b7c4e3"/><rect x="328.87" y="158.72" width="6.06" height="11.68" fill="#b7c4e3"/><rect x="334.62" y="158.72" width="6.06" height="11.68" fill="#9274bf"/><rect x="340.38" y="158.72" width="6.06" height="11.68" fill="#a597cf"/><rect x="346.14" y="158.72" width="6.06" height="11.68" fill="#b7c4e3"/><rect x="213.7" y="33.5" width="138.2" height="136.6" fill="none" stroke="#777" stroke-width="0.9"/><rect x="367.5" y="32.9" width="138.3" height="137.7" fill="#c6d3e5"/><rect x="367.50" y="32.90" width="6.06" height="11.78" fill="#afb3dd"/><rect x="373.26" y="32.90" width="6.06" height="11.78" fill="#afb3dd"/><rect x="379.02" y="32.90" width="6.06" height="11.78" fill="#afb3dd"/><rect x="384.79" y="32.90" width="6.06" height="11.78" fill="#ffffff"/><rect x="390.55" y="32.90" width="6.06" height="11.78" fill="#afb3dd"/><rect x="396.31" y="32.90" width="6.06" height="11.78" fill="#afb3dd"/><rect x="402.07" y="32.90" width="6.06" height="11.78" fill="#b7c4e3"/><rect x="407.84" y="32.90" width="6.06" height="11.78" fill="#b7c4e3"/><rect x="413.60" y="32.90" width="6.06" height="11.78" fill="#afb3dd"/><rect x="419.36" y="32.90" width="6.06" height="11.78" fill="#b7c4e3"/><rect x="425.12" y="32.90" width="6.06" height="11.78" fill="#afb3dd"/><rect x="430.89" y="32.90" width="6.06" height="11.78" fill="#b7c4e3"/><rect x="436.65" y="32.90" width="6.06" height="11.78" fill="#b7c4e3"/><rect x="442.41" y="32.90" width="6.06" height="11.78" fill="#b7c4e3"/><rect x="448.18" y="32.90" width="6.06" height="11.78" fill="#b7c4e3"/><rect x="453.94" y="32.90" width="6.06" height="11.78" fill="#b7c4e3"/><rect x="459.70" y="32.90" width="6.06" height="11.78" fill="#b7c4e3"/><rect x="465.46" y="32.90" width="6.06" height="11.78" fill="#b7c4e3"/><rect x="471.23" y="32.90" width="6.06" height="11.78" fill="#b7c4e3"/><rect x="476.99" y="32.90" width="6.06" height="11.78" fill="#afb3dd"/><rect x="482.75" y="32.90" width="6.06" height="11.78" fill="#b7c4e3"/><rect x="488.51" y="32.90" width="6.06" height="11.78" fill="#b7c4e3"/><rect x="494.27" y="32.90" width="6.06" height="11.78" fill="#b7c4e3"/><rect x="500.04" y="32.90" width="6.06" height="11.78" fill="#b7c4e3"/><rect x="367.50" y="44.38" width="6.06" height="11.78" fill="#afb3dd"/><rect x="373.26" y="44.38" width="6.06" height="11.78" fill="#afb3dd"/><rect x="379.02" y="44.38" width="6.06" height="11.78" fill="#afb3dd"/><rect x="384.79" y="44.38" width="6.06" height="11.78" fill="#afb3dd"/><rect x="390.55" y="44.38" width="6.06" height="11.78" fill="#afb3dd"/><rect x="396.31" y="44.38" width="6.06" height="11.78" fill="#b7c4e3"/><rect x="402.07" y="44.38" width="6.06" height="11.78" fill="#b7c4e3"/><rect x="407.84" y="44.38" width="6.06" height="11.78" fill="#b7c4e3"/><rect x="413.60" y="44.38" width="6.06" height="11.78" fill="#afb3dd"/><rect x="419.36" y="44.38" width="6.06" height="11.78" fill="#b7c4e3"/><rect x="425.12" y="44.38" width="6.06" height="11.78" fill="#b7c4e3"/><rect x="430.89" y="44.38" width="6.06" height="11.78" fill="#b7c4e3"/><rect x="436.65" y="44.38" width="6.06" height="11.78" fill="#b7c4e3"/><rect x="442.41" y="44.38" width="6.06" height="11.78" fill="#b7c4e3"/><rect x="448.18" y="44.38" width="6.06" height="11.78" fill="#afb3dd"/><rect x="453.94" y="44.38" width="6.06" height="11.78" fill="#b7c4e3"/><rect x="459.70" y="44.38" width="6.06" height="11.78" fill="#b7c4e3"/><rect x="465.46" y="44.38" width="6.06" height="11.78" fill="#b7c4e3"/><rect x="471.23" y="44.38" width="6.06" height="11.78" fill="#b7c4e3"/><rect x="476.99" y="44.38" width="6.06" height="11.78" fill="#b7c4e3"/><rect x="482.75" y="44.38" width="6.06" height="11.78" fill="#b7c4e3"/><rect x="488.51" y="44.38" width="6.06" height="11.78" fill="#b7c4e3"/><rect x="494.27" y="44.38" width="6.06" height="11.78" fill="#afb3dd"/><rect x="500.04" y="44.38" width="6.06" height="11.78" fill="#b7c4e3"/><rect x="367.50" y="55.85" width="6.06" height="11.78" fill="#afb3dd"/><rect x="373.26" y="55.85" width="6.06" height="11.78" fill="#afb3dd"/><rect x="379.02" y="55.85" width="6.06" height="11.78" fill="#afb3dd"/><rect x="384.79" y="55.85" width="6.06" height="11.78" fill="#afb3dd"/><rect x="390.55" y="55.85" width="6.06" height="11.78" fill="#b7c4e3"/><rect x="396.31" y="55.85" width="6.06" height="11.78" fill="#b7c4e3"/><rect x="402.07" y="55.85" width="6.06" height="11.78" fill="#b7c4e3"/><rect x="407.84" y="55.85" width="6.06" height="11.78" fill="#b7c4e3"/><rect x="413.60" y="55.85" width="6.06" height="11.78" fill="#b7c4e3"/><rect x="419.36" y="55.85" width="6.06" height="11.78" fill="#b7c4e3"/><rect x="425.12" y="55.85" width="6.06" height="11.78" fill="#b7c4e3"/><rect x="430.89" y="55.85" width="6.06" height="11.78" fill="#c6d3e5"/><rect x="436.65" y="55.85" width="6.06" height="11.78" fill="#c6d3e5"/><rect x="442.41" y="55.85" width="6.06" height="11.78" fill="#c6d3e5"/><rect x="448.18" y="55.85" width="6.06" height="11.78" fill="#c6d3e5"/><rect x="453.94" y="55.85" width="6.06" height="11.78" fill="#c6d3e5"/><rect x="459.70" y="55.85" width="6.06" height="11.78" fill="#b7c4e3"/><rect x="465.46" y="55.85" width="6.06" height="11.78" fill="#c6d3e5"/><rect x="471.23" y="55.85" width="6.06" height="11.78" fill="#b7c4e3"/><rect x="476.99" y="55.85" width="6.06" height="11.78" fill="#c6d3e5"/><rect x="482.75" y="55.85" width="6.06" height="11.78" fill="#b7c4e3"/><rect x="488.51" y="55.85" width="6.06" height="11.78" fill="#c6d3e5"/><rect x="494.27" y="55.85" width="6.06" height="11.78" fill="#c6d3e5"/><rect x="500.04" y="55.85" width="6.06" height="11.78" fill="#b7c4e3"/><rect x="367.50" y="67.32" width="6.06" height="11.78" fill="#afb3dd"/><rect x="373.26" y="67.32" width="6.06" height="11.78" fill="#a597cf"/><rect x="379.02" y="67.32" width="6.06" height="11.78" fill="#afb3dd"/><rect x="384.79" y="67.32" width="6.06" height="11.78" fill="#b7c4e3"/><rect x="390.55" y="67.32" width="6.06" height="11.78" fill="#afb3dd"/><rect x="396.31" y="67.32" width="6.06" height="11.78" fill="#b7c4e3"/><rect x="402.07" y="67.32" width="6.06" height="11.78" fill="#b7c4e3"/><rect x="407.84" y="67.32" width="6.06" height="11.78" fill="#ffffff"/><rect x="413.60" y="67.32" width="6.06" height="11.78" fill="#b7c4e3"/><rect x="419.36" y="67.32" width="6.06" height="11.78" fill="#b7c4e3"/><rect x="425.12" y="67.32" width="6.06" height="11.78" fill="#afb3dd"/><rect x="430.89" y="67.32" width="6.06" height="11.78" fill="#b7c4e3"/><rect x="436.65" y="67.32" width="6.06" height="11.78" fill="#b7c4e3"/><rect x="442.41" y="67.32" width="6.06" height="11.78" fill="#b7c4e3"/><rect x="448.18" y="67.32" width="6.06" height="11.78" fill="#b7c4e3"/><rect x="453.94" y="67.32" width="6.06" height="11.78" fill="#ffffff"/><rect x="459.70" y="67.32" width="6.06" height="11.78" fill="#b7c4e3"/><rect x="465.46" y="67.32" width="6.06" height="11.78" fill="#b7c4e3"/><rect x="471.23" y="67.32" width="6.06" height="11.78" fill="#afb3dd"/><rect x="476.99" y="67.32" width="6.06" height="11.78" fill="#b7c4e3"/><rect x="482.75" y="67.32" width="6.06" height="11.78" fill="#afb3dd"/><rect x="488.51" y="67.32" width="6.06" height="11.78" fill="#b7c4e3"/><rect x="494.27" y="67.32" width="6.06" height="11.78" fill="#b7c4e3"/><rect x="500.04" y="67.32" width="6.06" height="11.78" fill="#b7c4e3"/><rect x="367.50" y="78.80" width="6.06" height="11.78" fill="#afb3dd"/><rect x="373.26" y="78.80" width="6.06" height="11.78" fill="#afb3dd"/><rect x="379.02" y="78.80" width="6.06" height="11.78" fill="#afb3dd"/><rect x="384.79" y="78.80" width="6.06" height="11.78" fill="#afb3dd"/><rect x="390.55" y="78.80" width="6.06" height="11.78" fill="#b7c4e3"/><rect x="396.31" y="78.80" width="6.06" height="11.78" fill="#cfd7e4"/><rect x="402.07" y="78.80" width="6.06" height="11.78" fill="#cfd7e4"/><rect x="407.84" y="78.80" width="6.06" height="11.78" fill="#d9dce0"/><rect x="413.60" y="78.80" width="6.06" height="11.78" fill="#cfd7e4"/><rect x="419.36" y="78.80" width="6.06" height="11.78" fill="#cfd7e4"/><rect x="425.12" y="78.80" width="6.06" height="11.78" fill="#cfd7e4"/><rect x="430.89" y="78.80" width="6.06" height="11.78" fill="#d9dce0"/><rect x="436.65" y="78.80" width="6.06" height="11.78" fill="#c6d3e5"/><rect x="442.41" y="78.80" width="6.06" height="11.78" fill="#c6d3e5"/><rect x="448.18" y="78.80" width="6.06" height="11.78" fill="#c6d3e5"/><rect x="453.94" y="78.80" width="6.06" height="11.78" fill="#b7c4e3"/><rect x="459.70" y="78.80" width="6.06" height="11.78" fill="#c6d3e5"/><rect x="465.46" y="78.80" width="6.06" height="11.78" fill="#c6d3e5"/><rect x="471.23" y="78.80" width="6.06" height="11.78" fill="#c6d3e5"/><rect x="476.99" y="78.80" width="6.06" height="11.78" fill="#c6d3e5"/><rect x="482.75" y="78.80" width="6.06" height="11.78" fill="#c6d3e5"/><rect x="488.51" y="78.80" width="6.06" height="11.78" fill="#c6d3e5"/><rect x="494.27" y="78.80" width="6.06" height="11.78" fill="#c6d3e5"/><rect x="500.04" y="78.80" width="6.06" height="11.78" fill="#c6d3e5"/><rect x="367.50" y="90.28" width="6.06" height="11.78" fill="#afb3dd"/><rect x="373.26" y="90.28" width="6.06" height="11.78" fill="#b7c4e3"/><rect x="379.02" y="90.28" width="6.06" height="11.78" fill="#b7c4e3"/><rect x="384.79" y="90.28" width="6.06" height="11.78" fill="#afb3dd"/><rect x="390.55" y="90.28" width="6.06" height="11.78" fill="#b7c4e3"/><rect x="396.31" y="90.28" width="6.06" height="11.78" fill="#b7c4e3"/><rect x="402.07" y="90.28" width="6.06" height="11.78" fill="#cfd7e4"/><rect x="407.84" y="90.28" width="6.06" height="11.78" fill="#cfd7e4"/><rect x="413.60" y="90.28" width="6.06" height="11.78" fill="#cfd7e4"/><rect x="419.36" y="90.28" width="6.06" height="11.78" fill="#afb3dd"/><rect x="425.12" y="90.28" width="6.06" height="11.78" fill="#cfd7e4"/><rect x="430.89" y="90.28" width="6.06" height="11.78" fill="#ffffff"/><rect x="436.65" y="90.28" width="6.06" height="11.78" fill="#d9dce0"/><rect x="442.41" y="90.28" width="6.06" height="11.78" fill="#c6d3e5"/><rect x="448.18" y="90.28" width="6.06" height="11.78" fill="#d9dce0"/><rect x="453.94" y="90.28" width="6.06" height="11.78" fill="#d9dce0"/><rect x="459.70" y="90.28" width="6.06" height="11.78" fill="#c6d3e5"/><rect x="465.46" y="90.28" width="6.06" height="11.78" fill="#c6d3e5"/><rect x="471.23" y="90.28" width="6.06" height="11.78" fill="#c6d3e5"/><rect x="476.99" y="90.28" width="6.06" height="11.78" fill="#c6d3e5"/><rect x="482.75" y="90.28" width="6.06" height="11.78" fill="#c6d3e5"/><rect x="488.51" y="90.28" width="6.06" height="11.78" fill="#b7c4e3"/><rect x="494.27" y="90.28" width="6.06" height="11.78" fill="#c6d3e5"/><rect x="500.04" y="90.28" width="6.06" height="11.78" fill="#c6d3e5"/><rect x="367.50" y="101.75" width="6.06" height="11.78" fill="#afb3dd"/><rect x="373.26" y="101.75" width="6.06" height="11.78" fill="#afb3dd"/><rect x="379.02" y="101.75" width="6.06" height="11.78" fill="#b7c4e3"/><rect x="384.79" y="101.75" width="6.06" height="11.78" fill="#b7c4e3"/><rect x="390.55" y="101.75" width="6.06" height="11.78" fill="#b7c4e3"/><rect x="396.31" y="101.75" width="6.06" height="11.78" fill="#b7c4e3"/><rect x="402.07" y="101.75" width="6.06" height="11.78" fill="#cfd7e4"/><rect x="407.84" y="101.75" width="6.06" height="11.78" fill="#cfd7e4"/><rect x="413.60" y="101.75" width="6.06" height="11.78" fill="#afb3dd"/><rect x="419.36" y="101.75" width="6.06" height="11.78" fill="#cfd7e4"/><rect x="425.12" y="101.75" width="6.06" height="11.78" fill="#cfd7e4"/><rect x="430.89" y="101.75" width="6.06" height="11.78" fill="#cfd7e4"/><rect x="436.65" y="101.75" width="6.06" height="11.78" fill="#d9dce0"/><rect x="442.41" y="101.75" width="6.06" height="11.78" fill="#ebe2dc"/><rect x="448.18" y="101.75" width="6.06" height="11.78" fill="#d9dce0"/><rect x="453.94" y="101.75" width="6.06" height="11.78" fill="#d9dce0"/><rect x="459.70" y="101.75" width="6.06" height="11.78" fill="#d9dce0"/><rect x="465.46" y="101.75" width="6.06" height="11.78" fill="#d9dce0"/><rect x="471.23" y="101.75" width="6.06" height="11.78" fill="#d9dce0"/><rect x="476.99" y="101.75" width="6.06" height="11.78" fill="#b7c4e3"/><rect x="482.75" y="101.75" width="6.06" height="11.78" fill="#d9dce0"/><rect x="488.51" y="101.75" width="6.06" height="11.78" fill="#c6d3e5"/><rect x="494.27" y="101.75" width="6.06" height="11.78" fill="#ebe2dc"/><rect x="500.04" y="101.75" width="6.06" height="11.78" fill="#c6d3e5"/><rect x="367.50" y="113.22" width="6.06" height="11.78" fill="#afb3dd"/><rect x="373.26" y="113.22" width="6.06" height="11.78" fill="#afb3dd"/><rect x="379.02" y="113.22" width="6.06" height="11.78" fill="#afb3dd"/><rect x="384.79" y="113.22" width="6.06" height="11.78" fill="#b7c4e3"/><rect x="390.55" y="113.22" width="6.06" height="11.78" fill="#b7c4e3"/><rect x="396.31" y="113.22" width="6.06" height="11.78" fill="#cfd7e4"/><rect x="402.07" y="113.22" width="6.06" height="11.78" fill="#cfd7e4"/><rect x="407.84" y="113.22" width="6.06" height="11.78" fill="#b7c4e3"/><rect x="413.60" y="113.22" width="6.06" height="11.78" fill="#cfd7e4"/><rect x="419.36" y="113.22" width="6.06" height="11.78" fill="#cfd7e4"/><rect x="425.12" y="113.22" width="6.06" height="11.78" fill="#cfd7e4"/><rect x="430.89" y="113.22" width="6.06" height="11.78" fill="#cfd7e4"/><rect x="436.65" y="113.22" width="6.06" height="11.78" fill="#d9dce0"/><rect x="442.41" y="113.22" width="6.06" height="11.78" fill="#d9dce0"/><rect x="448.18" y="113.22" width="6.06" height="11.78" fill="#d9dce0"/><rect x="453.94" y="113.22" width="6.06" height="11.78" fill="#d9dce0"/><rect x="459.70" y="113.22" width="6.06" height="11.78" fill="#d9dce0"/><rect x="465.46" y="113.22" width="6.06" height="11.78" fill="#d9dce0"/><rect x="471.23" y="113.22" width="6.06" height="11.78" fill="#ebe2dc"/><rect x="476.99" y="113.22" width="6.06" height="11.78" fill="#d9dce0"/><rect x="482.75" y="113.22" width="6.06" height="11.78" fill="#c6d3e5"/><rect x="488.51" y="113.22" width="6.06" height="11.78" fill="#c6d3e5"/><rect x="494.27" y="113.22" width="6.06" height="11.78" fill="#c6d3e5"/><rect x="500.04" y="113.22" width="6.06" height="11.78" fill="#c6d3e5"/><rect x="367.50" y="124.70" width="6.06" height="11.78" fill="#a597cf"/><rect x="373.26" y="124.70" width="6.06" height="11.78" fill="#afb3dd"/><rect x="379.02" y="124.70" width="6.06" height="11.78" fill="#afb3dd"/><rect x="384.79" y="124.70" width="6.06" height="11.78" fill="#b7c4e3"/><rect x="390.55" y="124.70" width="6.06" height="11.78" fill="#b7c4e3"/><rect x="396.31" y="124.70" width="6.06" height="11.78" fill="#cfd7e4"/><rect x="402.07" y="124.70" width="6.06" height="11.78" fill="#cfd7e4"/><rect x="407.84" y="124.70" width="6.06" height="11.78" fill="#cfd7e4"/><rect x="413.60" y="124.70" width="6.06" height="11.78" fill="#cfd7e4"/><rect x="419.36" y="124.70" width="6.06" height="11.78" fill="#cfd7e4"/><rect x="425.12" y="124.70" width="6.06" height="11.78" fill="#cfd7e4"/><rect x="430.89" y="124.70" width="6.06" height="11.78" fill="#cfd7e4"/><rect x="436.65" y="124.70" width="6.06" height="11.78" fill="#d9dce0"/><rect x="442.41" y="124.70" width="6.06" height="11.78" fill="#d9dce0"/><rect x="448.18" y="124.70" width="6.06" height="11.78" fill="#d9dce0"/><rect x="453.94" y="124.70" width="6.06" height="11.78" fill="#d9dce0"/><rect x="459.70" y="124.70" width="6.06" height="11.78" fill="#d9dce0"/><rect x="465.46" y="124.70" width="6.06" height="11.78" fill="#d9dce0"/><rect x="471.23" y="124.70" width="6.06" height="11.78" fill="#d9dce0"/><rect x="476.99" y="124.70" width="6.06" height="11.78" fill="#d9dce0"/><rect x="482.75" y="124.70" width="6.06" height="11.78" fill="#c6d3e5"/><rect x="488.51" y="124.70" width="6.06" height="11.78" fill="#b7c4e3"/><rect x="494.27" y="124.70" width="6.06" height="11.78" fill="#c6d3e5"/><rect x="500.04" y="124.70" width="6.06" height="11.78" fill="#b7c4e3"/><rect x="367.50" y="136.17" width="6.06" height="11.78" fill="#afb3dd"/><rect x="373.26" y="136.17" width="6.06" height="11.78" fill="#afb3dd"/><rect x="379.02" y="136.17" width="6.06" height="11.78" fill="#b7c4e3"/><rect x="384.79" y="136.17" width="6.06" height="11.78" fill="#b7c4e3"/><rect x="390.55" y="136.17" width="6.06" height="11.78" fill="#b7c4e3"/><rect x="396.31" y="136.17" width="6.06" height="11.78" fill="#cfd7e4"/><rect x="402.07" y="136.17" width="6.06" height="11.78" fill="#cfd7e4"/><rect x="407.84" y="136.17" width="6.06" height="11.78" fill="#cfd7e4"/><rect x="413.60" y="136.17" width="6.06" height="11.78" fill="#cfd7e4"/><rect x="419.36" y="136.17" width="6.06" height="11.78" fill="#cfd7e4"/><rect x="425.12" y="136.17" width="6.06" height="11.78" fill="#cfd7e4"/><rect x="430.89" y="136.17" width="6.06" height="11.78" fill="#cfd7e4"/><rect x="436.65" y="136.17" width="6.06" height="11.78" fill="#d9dce0"/><rect x="442.41" y="136.17" width="6.06" height="11.78" fill="#d9dce0"/><rect x="448.18" y="136.17" width="6.06" height="11.78" fill="#d9dce0"/><rect x="453.94" y="136.17" width="6.06" height="11.78" fill="#ebe2dc"/><rect x="459.70" y="136.17" width="6.06" height="11.78" fill="#d9dce0"/><rect x="465.46" y="136.17" width="6.06" height="11.78" fill="#ebe2dc"/><rect x="471.23" y="136.17" width="6.06" height="11.78" fill="#d9dce0"/><rect x="476.99" y="136.17" width="6.06" height="11.78" fill="#d9dce0"/><rect x="482.75" y="136.17" width="6.06" height="11.78" fill="#c6d3e5"/><rect x="488.51" y="136.17" width="6.06" height="11.78" fill="#c6d3e5"/><rect x="494.27" y="136.17" width="6.06" height="11.78" fill="#c6d3e5"/><rect x="500.04" y="136.17" width="6.06" height="11.78" fill="#c6d3e5"/><rect x="367.50" y="147.65" width="6.06" height="11.78" fill="#afb3dd"/><rect x="373.26" y="147.65" width="6.06" height="11.78" fill="#b7c4e3"/><rect x="379.02" y="147.65" width="6.06" height="11.78" fill="#b7c4e3"/><rect x="384.79" y="147.65" width="6.06" height="11.78" fill="#b7c4e3"/><rect x="390.55" y="147.65" width="6.06" height="11.78" fill="#b7c4e3"/><rect x="396.31" y="147.65" width="6.06" height="11.78" fill="#cfd7e4"/><rect x="402.07" y="147.65" width="6.06" height="11.78" fill="#cfd7e4"/><rect x="407.84" y="147.65" width="6.06" height="11.78" fill="#cfd7e4"/><rect x="413.60" y="147.65" width="6.06" height="11.78" fill="#b7c4e3"/><rect x="419.36" y="147.65" width="6.06" height="11.78" fill="#cfd7e4"/><rect x="425.12" y="147.65" width="6.06" height="11.78" fill="#cfd7e4"/><rect x="430.89" y="147.65" width="6.06" height="11.78" fill="#cfd7e4"/><rect x="436.65" y="147.65" width="6.06" height="11.78" fill="#c6d3e5"/><rect x="442.41" y="147.65" width="6.06" height="11.78" fill="#d9dce0"/><rect x="448.18" y="147.65" width="6.06" height="11.78" fill="#d9dce0"/><rect x="453.94" y="147.65" width="6.06" height="11.78" fill="#ebe2dc"/><rect x="459.70" y="147.65" width="6.06" height="11.78" fill="#d9dce0"/><rect x="465.46" y="147.65" width="6.06" height="11.78" fill="#d9dce0"/><rect x="471.23" y="147.65" width="6.06" height="11.78" fill="#d9dce0"/><rect x="476.99" y="147.65" width="6.06" height="11.78" fill="#c6d3e5"/><rect x="482.75" y="147.65" width="6.06" height="11.78" fill="#c6d3e5"/><rect x="488.51" y="147.65" width="6.06" height="11.78" fill="#c6d3e5"/><rect x="494.27" y="147.65" width="6.06" height="11.78" fill="#c6d3e5"/><rect x="500.04" y="147.65" width="6.06" height="11.78" fill="#b7c4e3"/><rect x="367.50" y="159.12" width="6.06" height="11.78" fill="#afb3dd"/><rect x="373.26" y="159.12" width="6.06" height="11.78" fill="#b7c4e3"/><rect x="379.02" y="159.12" width="6.06" height="11.78" fill="#b7c4e3"/><rect x="384.79" y="159.12" width="6.06" height="11.78" fill="#b7c4e3"/><rect x="390.55" y="159.12" width="6.06" height="11.78" fill="#b7c4e3"/><rect x="396.31" y="159.12" width="6.06" height="11.78" fill="#c6d3e5"/><rect x="402.07" y="159.12" width="6.06" height="11.78" fill="#c6d3e5"/><rect x="407.84" y="159.12" width="6.06" height="11.78" fill="#c6d3e5"/><rect x="413.60" y="159.12" width="6.06" height="11.78" fill="#c6d3e5"/><rect x="419.36" y="159.12" width="6.06" height="11.78" fill="#b7c4e3"/><rect x="425.12" y="159.12" width="6.06" height="11.78" fill="#c6d3e5"/><rect x="430.89" y="159.12" width="6.06" height="11.78" fill="#c6d3e5"/><rect x="436.65" y="159.12" width="6.06" height="11.78" fill="#c6d3e5"/><rect x="442.41" y="159.12" width="6.06" height="11.78" fill="#c6d3e5"/><rect x="448.18" y="159.12" width="6.06" height="11.78" fill="#b7c4e3"/><rect x="453.94" y="159.12" width="6.06" height="11.78" fill="#c6d3e5"/><rect x="459.70" y="159.12" width="6.06" height="11.78" fill="#b7c4e3"/><rect x="465.46" y="159.12" width="6.06" height="11.78" fill="#c6d3e5"/><rect x="471.23" y="159.12" width="6.06" height="11.78" fill="#c6d3e5"/><rect x="476.99" y="159.12" width="6.06" height="11.78" fill="#b7c4e3"/><rect x="482.75" y="159.12" width="6.06" height="11.78" fill="#c6d3e5"/><rect x="488.51" y="159.12" width="6.06" height="11.78" fill="#b7c4e3"/><rect x="494.27" y="159.12" width="6.06" height="11.78" fill="#b7c4e3"/><rect x="500.04" y="159.12" width="6.06" height="11.78" fill="#c6d3e5"/><rect x="367.5" y="32.9" width="138.3" height="137.7" fill="none" stroke="#777" stroke-width="0.9"/><rect x="521.3" y="32.4" width="136.30000000000007" height="137.9" fill="#c6d3e5"/><rect x="521.30" y="32.40" width="11.66" height="17.54" fill="#afb3dd"/><rect x="532.66" y="32.40" width="11.66" height="17.54" fill="#b7c4e3"/><rect x="544.02" y="32.40" width="11.66" height="17.54" fill="#b7c4e3"/><rect x="555.38" y="32.40" width="11.66" height="17.54" fill="#b7c4e3"/><rect x="566.73" y="32.40" width="11.66" height="17.54" fill="#b7c4e3"/><rect x="578.09" y="32.40" width="11.66" height="17.54" fill="#afb3dd"/><rect x="589.45" y="32.40" width="11.66" height="17.54" fill="#b7c4e3"/><rect x="600.81" y="32.40" width="11.66" height="17.54" fill="#c6d3e5"/><rect x="612.17" y="32.40" width="11.66" height="17.54" fill="#b7c4e3"/><rect x="623.52" y="32.40" width="11.66" height="17.54" fill="#c6d3e5"/><rect x="634.88" y="32.40" width="11.66" height="17.54" fill="#b7c4e3"/><rect x="646.24" y="32.40" width="11.66" height="17.54" fill="#b7c4e3"/><rect x="521.30" y="49.64" width="11.66" height="17.54" fill="#b7c4e3"/><rect x="532.66" y="49.64" width="11.66" height="17.54" fill="#ffffff"/><rect x="544.02" y="49.64" width="11.66" height="17.54" fill="#b7c4e3"/><rect x="555.38" y="49.64" width="11.66" height="17.54" fill="#b7c4e3"/><rect x="566.73" y="49.64" width="11.66" height="17.54" fill="#afb3dd"/><rect x="578.09" y="49.64" width="11.66" height="17.54" fill="#c6d3e5"/><rect x="589.45" y="49.64" width="11.66" height="17.54" fill="#b7c4e3"/><rect x="600.81" y="49.64" width="11.66" height="17.54" fill="#afb3dd"/><rect x="612.17" y="49.64" width="11.66" height="17.54" fill="#b7c4e3"/><rect x="623.52" y="49.64" width="11.66" height="17.54" fill="#ffffff"/><rect x="634.88" y="49.64" width="11.66" height="17.54" fill="#afb3dd"/><rect x="646.24" y="49.64" width="11.66" height="17.54" fill="#b7c4e3"/><rect x="521.30" y="66.88" width="11.66" height="17.54" fill="#b7c4e3"/><rect x="532.66" y="66.88" width="11.66" height="17.54" fill="#c6d3e5"/><rect x="544.02" y="66.88" width="11.66" height="17.54" fill="#b7c4e3"/><rect x="555.38" y="66.88" width="11.66" height="17.54" fill="#b7c4e3"/><rect x="566.73" y="66.88" width="11.66" height="17.54" fill="#b7c4e3"/><rect x="578.09" y="66.88" width="11.66" height="17.54" fill="#d9dce0"/><rect x="589.45" y="66.88" width="11.66" height="17.54" fill="#c6d3e5"/><rect x="600.81" y="66.88" width="11.66" height="17.54" fill="#c6d3e5"/><rect x="612.17" y="66.88" width="11.66" height="17.54" fill="#c6d3e5"/><rect x="623.52" y="66.88" width="11.66" height="17.54" fill="#c6d3e5"/><rect x="634.88" y="66.88" width="11.66" height="17.54" fill="#c6d3e5"/><rect x="646.24" y="66.88" width="11.66" height="17.54" fill="#c6d3e5"/><rect x="521.30" y="84.11" width="11.66" height="17.54" fill="#b7c4e3"/><rect x="532.66" y="84.11" width="11.66" height="17.54" fill="#c6d3e5"/><rect x="544.02" y="84.11" width="11.66" height="17.54" fill="#b7c4e3"/><rect x="555.38" y="84.11" width="11.66" height="17.54" fill="#a597cf"/><rect x="566.73" y="84.11" width="11.66" height="17.54" fill="#b7c4e3"/><rect x="578.09" y="84.11" width="11.66" height="17.54" fill="#ffffff"/><rect x="589.45" y="84.11" width="11.66" height="17.54" fill="#c6d3e5"/><rect x="600.81" y="84.11" width="11.66" height="17.54" fill="#c6d3e5"/><rect x="612.17" y="84.11" width="11.66" height="17.54" fill="#d9dce0"/><rect x="623.52" y="84.11" width="11.66" height="17.54" fill="#d9dce0"/><rect x="634.88" y="84.11" width="11.66" height="17.54" fill="#b7c4e3"/><rect x="646.24" y="84.11" width="11.66" height="17.54" fill="#c6d3e5"/><rect x="521.30" y="101.35" width="11.66" height="17.54" fill="#afb3dd"/><rect x="532.66" y="101.35" width="11.66" height="17.54" fill="#c6d3e5"/><rect x="544.02" y="101.35" width="11.66" height="17.54" fill="#a597cf"/><rect x="555.38" y="101.35" width="11.66" height="17.54" fill="#c6d3e5"/><rect x="566.73" y="101.35" width="11.66" height="17.54" fill="#c6d3e5"/><rect x="578.09" y="101.35" width="11.66" height="17.54" fill="#b7c4e3"/><rect x="589.45" y="101.35" width="11.66" height="17.54" fill="#c6d3e5"/><rect x="600.81" y="101.35" width="11.66" height="17.54" fill="#d9dce0"/><rect x="612.17" y="101.35" width="11.66" height="17.54" fill="#ecedda"/><rect x="623.52" y="101.35" width="11.66" height="17.54" fill="#d9dce0"/><rect x="634.88" y="101.35" width="11.66" height="17.54" fill="#c6d3e5"/><rect x="646.24" y="101.35" width="11.66" height="17.54" fill="#d9dce0"/><rect x="521.30" y="118.59" width="11.66" height="17.54" fill="#c6d3e5"/><rect x="532.66" y="118.59" width="11.66" height="17.54" fill="#afb3dd"/><rect x="544.02" y="118.59" width="11.66" height="17.54" fill="#c6d3e5"/><rect x="555.38" y="118.59" width="11.66" height="17.54" fill="#d9dce0"/><rect x="566.73" y="118.59" width="11.66" height="17.54" fill="#c6d3e5"/><rect x="578.09" y="118.59" width="11.66" height="17.54" fill="#b7c4e3"/><rect x="589.45" y="118.59" width="11.66" height="17.54" fill="#c6d3e5"/><rect x="600.81" y="118.59" width="11.66" height="17.54" fill="#c6d3e5"/><rect x="612.17" y="118.59" width="11.66" height="17.54" fill="#c6d3e5"/><rect x="623.52" y="118.59" width="11.66" height="17.54" fill="#c6d3e5"/><rect x="634.88" y="118.59" width="11.66" height="17.54" fill="#c6d3e5"/><rect x="646.24" y="118.59" width="11.66" height="17.54" fill="#d9dce0"/><rect x="521.30" y="135.83" width="11.66" height="17.54" fill="#d9dce0"/><rect x="532.66" y="135.83" width="11.66" height="17.54" fill="#c6d3e5"/><rect x="544.02" y="135.83" width="11.66" height="17.54" fill="#c6d3e5"/><rect x="555.38" y="135.83" width="11.66" height="17.54" fill="#c6d3e5"/><rect x="566.73" y="135.83" width="11.66" height="17.54" fill="#c6d3e5"/><rect x="578.09" y="135.83" width="11.66" height="17.54" fill="#c6d3e5"/><rect x="589.45" y="135.83" width="11.66" height="17.54" fill="#d9dce0"/><rect x="600.81" y="135.83" width="11.66" height="17.54" fill="#d9dce0"/><rect x="612.17" y="135.83" width="11.66" height="17.54" fill="#d9dce0"/><rect x="623.52" y="135.83" width="11.66" height="17.54" fill="#d9dce0"/><rect x="634.88" y="135.83" width="11.66" height="17.54" fill="#d9dce0"/><rect x="646.24" y="135.83" width="11.66" height="17.54" fill="#ecedda"/><rect x="521.30" y="153.06" width="11.66" height="17.54" fill="#d9dce0"/><rect x="532.66" y="153.06" width="11.66" height="17.54" fill="#d9dce0"/><rect x="544.02" y="153.06" width="11.66" height="17.54" fill="#c6d3e5"/><rect x="555.38" y="153.06" width="11.66" height="17.54" fill="#c6d3e5"/><rect x="566.73" y="153.06" width="11.66" height="17.54" fill="#c6d3e5"/><rect x="578.09" y="153.06" width="11.66" height="17.54" fill="#c6d3e5"/><rect x="589.45" y="153.06" width="11.66" height="17.54" fill="#d9dce0"/><rect x="600.81" y="153.06" width="11.66" height="17.54" fill="#d9dce0"/><rect x="612.17" y="153.06" width="11.66" height="17.54" fill="#c6d3e5"/><rect x="623.52" y="153.06" width="11.66" height="17.54" fill="#ecedda"/><rect x="634.88" y="153.06" width="11.66" height="17.54" fill="#c6d3e5"/><rect x="646.24" y="153.06" width="11.66" height="17.54" fill="#ecedda"/><rect x="521.3" y="32.4" width="136.30000000000007" height="137.9" fill="none" stroke="#777" stroke-width="0.9"/><rect x="28.3" y="216.4" width="138.5" height="137.70000000000002" fill="#c6d3e5"/><rect x="28.30" y="216.40" width="6.90" height="11.78" fill="#ffffff"/><rect x="34.90" y="216.40" width="6.90" height="11.78" fill="#ffffff"/><rect x="41.49" y="216.40" width="6.90" height="11.78" fill="#afb3dd"/><rect x="48.09" y="216.40" width="6.90" height="11.78" fill="#b7c4e3"/><rect x="54.68" y="216.40" width="6.90" height="11.78" fill="#b7c4e3"/><rect x="61.28" y="216.40" width="6.90" height="11.78" fill="#afb3dd"/><rect x="67.87" y="216.40" width="6.90" height="11.78" fill="#b7c4e3"/><rect x="74.47" y="216.40" width="6.90" height="11.78" fill="#b7c4e3"/><rect x="81.06" y="216.40" width="6.90" height="11.78" fill="#b7c4e3"/><rect x="87.66" y="216.40" width="6.90" height="11.78" fill="#b7c4e3"/><rect x="94.25" y="216.40" width="6.90" height="11.78" fill="#b7c4e3"/><rect x="100.85" y="216.40" width="6.90" height="11.78" fill="#b7c4e3"/><rect x="107.44" y="216.40" width="6.90" height="11.78" fill="#a597cf"/><rect x="114.04" y="216.40" width="6.90" height="11.78" fill="#a597cf"/><rect x="120.63" y="216.40" width="6.90" height="11.78" fill="#b7c4e3"/><rect x="127.23" y="216.40" width="6.90" height="11.78" fill="#b7c4e3"/><rect x="133.82" y="216.40" width="6.90" height="11.78" fill="#d9dce0"/><rect x="140.42" y="216.40" width="6.90" height="11.78" fill="#d9dce0"/><rect x="147.01" y="216.40" width="6.90" height="11.78" fill="#ffffff"/><rect x="153.61" y="216.40" width="6.90" height="11.78" fill="#ffffff"/><rect x="160.20" y="216.40" width="6.90" height="11.78" fill="#ffffff"/><rect x="28.30" y="227.88" width="6.90" height="11.78" fill="#afb3dd"/><rect x="34.90" y="227.88" width="6.90" height="11.78" fill="#afb3dd"/><rect x="41.49" y="227.88" width="6.90" height="11.78" fill="#b7c4e3"/><rect x="48.09" y="227.88" width="6.90" height="11.78" fill="#a597cf"/><rect x="54.68" y="227.88" width="6.90" height="11.78" fill="#b7c4e3"/><rect x="61.28" y="227.88" width="6.90" height="11.78" fill="#b7c4e3"/><rect x="67.87" y="227.88" width="6.90" height="11.78" fill="#b7c4e3"/><rect x="74.47" y="227.88" width="6.90" height="11.78" fill="#d9dce0"/><rect x="81.06" y="227.88" width="6.90" height="11.78" fill="#d9dce0"/><rect x="87.66" y="227.88" width="6.90" height="11.78" fill="#b7c4e3"/><rect x="94.25" y="227.88" width="6.90" height="11.78" fill="#d9dce0"/><rect x="100.85" y="227.88" width="6.90" height="11.78" fill="#d9dce0"/><rect x="107.44" y="227.88" width="6.90" height="11.78" fill="#b7c4e3"/><rect x="114.04" y="227.88" width="6.90" height="11.78" fill="#d9dce0"/><rect x="120.63" y="227.88" width="6.90" height="11.78" fill="#d9dce0"/><rect x="127.23" y="227.88" width="6.90" height="11.78" fill="#d9dce0"/><rect x="133.82" y="227.88" width="6.90" height="11.78" fill="#c6d3e5"/><rect x="140.42" y="227.88" width="6.90" height="11.78" fill="#c6d3e5"/><rect x="147.01" y="227.88" width="6.90" height="11.78" fill="#c6d3e5"/><rect x="153.61" y="227.88" width="6.90" height="11.78" fill="#afb3dd"/><rect x="160.20" y="227.88" width="6.90" height="11.78" fill="#c6d3e5"/><rect x="28.30" y="239.35" width="6.90" height="11.78" fill="#a597cf"/><rect x="34.90" y="239.35" width="6.90" height="11.78" fill="#b7c4e3"/><rect x="41.49" y="239.35" width="6.90" height="11.78" fill="#ffffff"/><rect x="48.09" y="239.35" width="6.90" height="11.78" fill="#b7c4e3"/><rect x="54.68" y="239.35" width="6.90" height="11.78" fill="#afb3dd"/><rect x="61.28" y="239.35" width="6.90" height="11.78" fill="#b7c4e3"/><rect x="67.87" y="239.35" width="6.90" height="11.78" fill="#b7c4e3"/><rect x="74.47" y="239.35" width="6.90" height="11.78" fill="#c6d3e5"/><rect x="81.06" y="239.35" width="6.90" height="11.78" fill="#9274bf"/><rect x="87.66" y="239.35" width="6.90" height="11.78" fill="#b7c4e3"/><rect x="94.25" y="239.35" width="6.90" height="11.78" fill="#c6d3e5"/><rect x="100.85" y="239.35" width="6.90" height="11.78" fill="#9274bf"/><rect x="107.44" y="239.35" width="6.90" height="11.78" fill="#9274bf"/><rect x="114.04" y="239.35" width="6.90" height="11.78" fill="#b7c4e3"/><rect x="120.63" y="239.35" width="6.90" height="11.78" fill="#b7c4e3"/><rect x="127.23" y="239.35" width="6.90" height="11.78" fill="#9274bf"/><rect x="133.82" y="239.35" width="6.90" height="11.78" fill="#a597cf"/><rect x="140.42" y="239.35" width="6.90" height="11.78" fill="#b7c4e3"/><rect x="147.01" y="239.35" width="6.90" height="11.78" fill="#c6d3e5"/><rect x="153.61" y="239.35" width="6.90" height="11.78" fill="#d9dce0"/><rect x="160.20" y="239.35" width="6.90" height="11.78" fill="#a597cf"/><rect x="28.30" y="250.83" width="6.90" height="11.78" fill="#b7c4e3"/><rect x="34.90" y="250.83" width="6.90" height="11.78" fill="#b7c4e3"/><rect x="41.49" y="250.83" width="6.90" height="11.78" fill="#ffffff"/><rect x="48.09" y="250.83" width="6.90" height="11.78" fill="#b7c4e3"/><rect x="54.68" y="250.83" width="6.90" height="11.78" fill="#b7c4e3"/><rect x="61.28" y="250.83" width="6.90" height="11.78" fill="#b7c4e3"/><rect x="67.87" y="250.83" width="6.90" height="11.78" fill="#afb3dd"/><rect x="74.47" y="250.83" width="6.90" height="11.78" fill="#b7c4e3"/><rect x="81.06" y="250.83" width="6.90" height="11.78" fill="#c6d3e5"/><rect x="87.66" y="250.83" width="6.90" height="11.78" fill="#afb3dd"/><rect x="94.25" y="250.83" width="6.90" height="11.78" fill="#b7c4e3"/><rect x="100.85" y="250.83" width="6.90" height="11.78" fill="#c6d3e5"/><rect x="107.44" y="250.83" width="6.90" height="11.78" fill="#b7c4e3"/><rect x="114.04" y="250.83" width="6.90" height="11.78" fill="#7c49ab"/><rect x="120.63" y="250.83" width="6.90" height="11.78" fill="#d9dce0"/><rect x="127.23" y="250.83" width="6.90" height="11.78" fill="#b7c4e3"/><rect x="133.82" y="250.83" width="6.90" height="11.78" fill="#d9dce0"/><rect x="140.42" y="250.83" width="6.90" height="11.78" fill="#b7c4e3"/><rect x="147.01" y="250.83" width="6.90" height="11.78" fill="#d9dce0"/><rect x="153.61" y="250.83" width="6.90" height="11.78" fill="#c6d3e5"/><rect x="160.20" y="250.83" width="6.90" height="11.78" fill="#d9dce0"/><rect x="28.30" y="262.30" width="6.90" height="11.78" fill="#ffffff"/><rect x="34.90" y="262.30" width="6.90" height="11.78" fill="#ffffff"/><rect x="41.49" y="262.30" width="6.90" height="11.78" fill="#b7c4e3"/><rect x="48.09" y="262.30" width="6.90" height="11.78" fill="#c6d3e5"/><rect x="54.68" y="262.30" width="6.90" height="11.78" fill="#afb3dd"/><rect x="61.28" y="262.30" width="6.90" height="11.78" fill="#c6d3e5"/><rect x="67.87" y="262.30" width="6.90" height="11.78" fill="#c6d3e5"/><rect x="74.47" y="262.30" width="6.90" height="11.78" fill="#ffffff"/><rect x="81.06" y="262.30" width="6.90" height="11.78" fill="#c6d3e5"/><rect x="87.66" y="262.30" width="6.90" height="11.78" fill="#c6d3e5"/><rect x="94.25" y="262.30" width="6.90" height="11.78" fill="#ffffff"/><rect x="100.85" y="262.30" width="6.90" height="11.78" fill="#c6d3e5"/><rect x="107.44" y="262.30" width="6.90" height="11.78" fill="#c6d3e5"/><rect x="114.04" y="262.30" width="6.90" height="11.78" fill="#d9dce0"/><rect x="120.63" y="262.30" width="6.90" height="11.78" fill="#d9dce0"/><rect x="127.23" y="262.30" width="6.90" height="11.78" fill="#d9dce0"/><rect x="133.82" y="262.30" width="6.90" height="11.78" fill="#ebe2dc"/><rect x="140.42" y="262.30" width="6.90" height="11.78" fill="#b7c4e3"/><rect x="147.01" y="262.30" width="6.90" height="11.78" fill="#b7c4e3"/><rect x="153.61" y="262.30" width="6.90" height="11.78" fill="#d9dce0"/><rect x="160.20" y="262.30" width="6.90" height="11.78" fill="#d9dce0"/><rect x="28.30" y="273.78" width="6.90" height="11.78" fill="#ffffff"/><rect x="34.90" y="273.78" width="6.90" height="11.78" fill="#6a2c9e"/><rect x="41.49" y="273.78" width="6.90" height="11.78" fill="#9274bf"/><rect x="48.09" y="273.78" width="6.90" height="11.78" fill="#afb3dd"/><rect x="54.68" y="273.78" width="6.90" height="11.78" fill="#b7c4e3"/><rect x="61.28" y="273.78" width="6.90" height="11.78" fill="#b7c4e3"/><rect x="67.87" y="273.78" width="6.90" height="11.78" fill="#a597cf"/><rect x="74.47" y="273.78" width="6.90" height="11.78" fill="#ffffff"/><rect x="81.06" y="273.78" width="6.90" height="11.78" fill="#b7c4e3"/><rect x="87.66" y="273.78" width="6.90" height="11.78" fill="#a597cf"/><rect x="94.25" y="273.78" width="6.90" height="11.78" fill="#ffffff"/><rect x="100.85" y="273.78" width="6.90" height="11.78" fill="#ebe2dc"/><rect x="107.44" y="273.78" width="6.90" height="11.78" fill="#afb3dd"/><rect x="114.04" y="273.78" width="6.90" height="11.78" fill="#afb3dd"/><rect x="120.63" y="273.78" width="6.90" height="11.78" fill="#c6d3e5"/><rect x="127.23" y="273.78" width="6.90" height="11.78" fill="#b7c4e3"/><rect x="133.82" y="273.78" width="6.90" height="11.78" fill="#d9dce0"/><rect x="140.42" y="273.78" width="6.90" height="11.78" fill="#ebe2dc"/><rect x="147.01" y="273.78" width="6.90" height="11.78" fill="#d9dce0"/><rect x="153.61" y="273.78" width="6.90" height="11.78" fill="#c6d3e5"/><rect x="160.20" y="273.78" width="6.90" height="11.78" fill="#ebe2dc"/><rect x="28.30" y="285.25" width="6.90" height="11.78" fill="#b7c4e3"/><rect x="34.90" y="285.25" width="6.90" height="11.78" fill="#b7c4e3"/><rect x="41.49" y="285.25" width="6.90" height="11.78" fill="#afb3dd"/><rect x="48.09" y="285.25" width="6.90" height="11.78" fill="#b7c4e3"/><rect x="54.68" y="285.25" width="6.90" height="11.78" fill="#b7c4e3"/><rect x="61.28" y="285.25" width="6.90" height="11.78" fill="#b7c4e3"/><rect x="67.87" y="285.25" width="6.90" height="11.78" fill="#9274bf"/><rect x="74.47" y="285.25" width="6.90" height="11.78" fill="#c6d3e5"/><rect x="81.06" y="285.25" width="6.90" height="11.78" fill="#c6d3e5"/><rect x="87.66" y="285.25" width="6.90" height="11.78" fill="#9274bf"/><rect x="94.25" y="285.25" width="6.90" height="11.78" fill="#c6d3e5"/><rect x="100.85" y="285.25" width="6.90" height="11.78" fill="#ebe2dc"/><rect x="107.44" y="285.25" width="6.90" height="11.78" fill="#d9dce0"/><rect x="114.04" y="285.25" width="6.90" height="11.78" fill="#c6d3e5"/><rect x="120.63" y="285.25" width="6.90" height="11.78" fill="#d9dce0"/><rect x="127.23" y="285.25" width="6.90" height="11.78" fill="#ebe2dc"/><rect x="133.82" y="285.25" width="6.90" height="11.78" fill="#ebe2dc"/><rect x="140.42" y="285.25" width="6.90" height="11.78" fill="#d9dce0"/><rect x="147.01" y="285.25" width="6.90" height="11.78" fill="#ebe2dc"/><rect x="153.61" y="285.25" width="6.90" height="11.78" fill="#d9dce0"/><rect x="160.20" y="285.25" width="6.90" height="11.78" fill="#ebe2dc"/><rect x="28.30" y="296.73" width="6.90" height="11.78" fill="#afb3dd"/><rect x="34.90" y="296.73" width="6.90" height="11.78" fill="#afb3dd"/><rect x="41.49" y="296.73" width="6.90" height="11.78" fill="#afb3dd"/><rect x="48.09" y="296.73" width="6.90" height="11.78" fill="#9274bf"/><rect x="54.68" y="296.73" width="6.90" height="11.78" fill="#b7c4e3"/><rect x="61.28" y="296.73" width="6.90" height="11.78" fill="#afb3dd"/><rect x="67.87" y="296.73" width="6.90" height="11.78" fill="#b7c4e3"/><rect x="74.47" y="296.73" width="6.90" height="11.78" fill="#b7c4e3"/><rect x="81.06" y="296.73" width="6.90" height="11.78" fill="#b7c4e3"/><rect x="87.66" y="296.73" width="6.90" height="11.78" fill="#b7c4e3"/><rect x="94.25" y="296.73" width="6.90" height="11.78" fill="#b7c4e3"/><rect x="100.85" y="296.73" width="6.90" height="11.78" fill="#c6d3e5"/><rect x="107.44" y="296.73" width="6.90" height="11.78" fill="#f9e7d8"/><rect x="114.04" y="296.73" width="6.90" height="11.78" fill="#afb3dd"/><rect x="120.63" y="296.73" width="6.90" height="11.78" fill="#ebe2dc"/><rect x="127.23" y="296.73" width="6.90" height="11.78" fill="#d9dce0"/><rect x="133.82" y="296.73" width="6.90" height="11.78" fill="#d9dce0"/><rect x="140.42" y="296.73" width="6.90" height="11.78" fill="#d9dce0"/><rect x="147.01" y="296.73" width="6.90" height="11.78" fill="#ebe2dc"/><rect x="153.61" y="296.73" width="6.90" height="11.78" fill="#b7c4e3"/><rect x="160.20" y="296.73" width="6.90" height="11.78" fill="#ebe2dc"/><rect x="28.30" y="308.20" width="6.90" height="11.78" fill="#ffffff"/><rect x="34.90" y="308.20" width="6.90" height="11.78" fill="#ffffff"/><rect x="41.49" y="308.20" width="6.90" height="11.78" fill="#ffffff"/><rect x="48.09" y="308.20" width="6.90" height="11.78" fill="#afb3dd"/><rect x="54.68" y="308.20" width="6.90" height="11.78" fill="#9274bf"/><rect x="61.28" y="308.20" width="6.90" height="11.78" fill="#b7c4e3"/><rect x="67.87" y="308.20" width="6.90" height="11.78" fill="#b7c4e3"/><rect x="74.47" y="308.20" width="6.90" height="11.78" fill="#b7c4e3"/><rect x="81.06" y="308.20" width="6.90" height="11.78" fill="#b7c4e3"/><rect x="87.66" y="308.20" width="6.90" height="11.78" fill="#afb3dd"/><rect x="94.25" y="308.20" width="6.90" height="11.78" fill="#b7c4e3"/><rect x="100.85" y="308.20" width="6.90" height="11.78" fill="#b7c4e3"/><rect x="107.44" y="308.20" width="6.90" height="11.78" fill="#f9e7d8"/><rect x="114.04" y="308.20" width="6.90" height="11.78" fill="#ebe2dc"/><rect x="120.63" y="308.20" width="6.90" height="11.78" fill="#ebe2dc"/><rect x="127.23" y="308.20" width="6.90" height="11.78" fill="#ebe2dc"/><rect x="133.82" y="308.20" width="6.90" height="11.78" fill="#ebe2dc"/><rect x="140.42" y="308.20" width="6.90" height="11.78" fill="#d9dce0"/><rect x="147.01" y="308.20" width="6.90" height="11.78" fill="#d9dce0"/><rect x="153.61" y="308.20" width="6.90" height="11.78" fill="#a597cf"/><rect x="160.20" y="308.20" width="6.90" height="11.78" fill="#d9dce0"/><rect x="28.30" y="319.68" width="6.90" height="11.78" fill="#afb3dd"/><rect x="34.90" y="319.68" width="6.90" height="11.78" fill="#b7c4e3"/><rect x="41.49" y="319.68" width="6.90" height="11.78" fill="#b7c4e3"/><rect x="48.09" y="319.68" width="6.90" height="11.78" fill="#b7c4e3"/><rect x="54.68" y="319.68" width="6.90" height="11.78" fill="#7c49ab"/><rect x="61.28" y="319.68" width="6.90" height="11.78" fill="#ffffff"/><rect x="67.87" y="319.68" width="6.90" height="11.78" fill="#c6d3e5"/><rect x="74.47" y="319.68" width="6.90" height="11.78" fill="#c6d3e5"/><rect x="81.06" y="319.68" width="6.90" height="11.78" fill="#c6d3e5"/><rect x="87.66" y="319.68" width="6.90" height="11.78" fill="#c6d3e5"/><rect x="94.25" y="319.68" width="6.90" height="11.78" fill="#b7c4e3"/><rect x="100.85" y="319.68" width="6.90" height="11.78" fill="#c6d3e5"/><rect x="107.44" y="319.68" width="6.90" height="11.78" fill="#d9dce0"/><rect x="114.04" y="319.68" width="6.90" height="11.78" fill="#c6d3e5"/><rect x="120.63" y="319.68" width="6.90" height="11.78" fill="#ebe2dc"/><rect x="127.23" y="319.68" width="6.90" height="11.78" fill="#d9dce0"/><rect x="133.82" y="319.68" width="6.90" height="11.78" fill="#c6d3e5"/><rect x="140.42" y="319.68" width="6.90" height="11.78" fill="#ebe2dc"/><rect x="147.01" y="319.68" width="6.90" height="11.78" fill="#c6d3e5"/><rect x="153.61" y="319.68" width="6.90" height="11.78" fill="#d9dce0"/><rect x="160.20" y="319.68" width="6.90" height="11.78" fill="#ebe2dc"/><rect x="28.30" y="331.15" width="6.90" height="11.78" fill="#b7c4e3"/><rect x="34.90" y="331.15" width="6.90" height="11.78" fill="#ffffff"/><rect x="41.49" y="331.15" width="6.90" height="11.78" fill="#afb3dd"/><rect x="48.09" y="331.15" width="6.90" height="11.78" fill="#b7c4e3"/><rect x="54.68" y="331.15" width="6.90" height="11.78" fill="#ffffff"/><rect x="61.28" y="331.15" width="6.90" height="11.78" fill="#ffffff"/><rect x="67.87" y="331.15" width="6.90" height="11.78" fill="#b7c4e3"/><rect x="74.47" y="331.15" width="6.90" height="11.78" fill="#b7c4e3"/><rect x="81.06" y="331.15" width="6.90" height="11.78" fill="#a597cf"/><rect x="87.66" y="331.15" width="6.90" height="11.78" fill="#b7c4e3"/><rect x="94.25" y="331.15" width="6.90" height="11.78" fill="#b7c4e3"/><rect x="100.85" y="331.15" width="6.90" height="11.78" fill="#a597cf"/><rect x="107.44" y="331.15" width="6.90" height="11.78" fill="#c6d3e5"/><rect x="114.04" y="331.15" width="6.90" height="11.78" fill="#b7c4e3"/><rect x="120.63" y="331.15" width="6.90" height="11.78" fill="#d9dce0"/><rect x="127.23" y="331.15" width="6.90" height="11.78" fill="#c6d3e5"/><rect x="133.82" y="331.15" width="6.90" height="11.78" fill="#d9dce0"/><rect x="140.42" y="331.15" width="6.90" height="11.78" fill="#d9dce0"/><rect x="147.01" y="331.15" width="6.90" height="11.78" fill="#d9dce0"/><rect x="153.61" y="331.15" width="6.90" height="11.78" fill="#b7c4e3"/><rect x="160.20" y="331.15" width="6.90" height="11.78" fill="#d9dce0"/><rect x="28.30" y="342.62" width="6.90" height="11.78" fill="#7c49ab"/><rect x="34.90" y="342.62" width="6.90" height="11.78" fill="#ffffff"/><rect x="41.49" y="342.62" width="6.90" height="11.78" fill="#b7c4e3"/><rect x="48.09" y="342.62" width="6.90" height="11.78" fill="#b7c4e3"/><rect x="54.68" y="342.62" width="6.90" height="11.78" fill="#b7c4e3"/><rect x="61.28" y="342.62" width="6.90" height="11.78" fill="#b7c4e3"/><rect x="67.87" y="342.62" width="6.90" height="11.78" fill="#b7c4e3"/><rect x="74.47" y="342.62" width="6.90" height="11.78" fill="#afb3dd"/><rect x="81.06" y="342.62" width="6.90" height="11.78" fill="#b7c4e3"/><rect x="87.66" y="342.62" width="6.90" height="11.78" fill="#b7c4e3"/><rect x="94.25" y="342.62" width="6.90" height="11.78" fill="#afb3dd"/><rect x="100.85" y="342.62" width="6.90" height="11.78" fill="#b7c4e3"/><rect x="107.44" y="342.62" width="6.90" height="11.78" fill="#afb3dd"/><rect x="114.04" y="342.62" width="6.90" height="11.78" fill="#9274bf"/><rect x="120.63" y="342.62" width="6.90" height="11.78" fill="#a597cf"/><rect x="127.23" y="342.62" width="6.90" height="11.78" fill="#b7c4e3"/><rect x="133.82" y="342.62" width="6.90" height="11.78" fill="#c6d3e5"/><rect x="140.42" y="342.62" width="6.90" height="11.78" fill="#c6d3e5"/><rect x="147.01" y="342.62" width="6.90" height="11.78" fill="#9274bf"/><rect x="153.61" y="342.62" width="6.90" height="11.78" fill="#b7c4e3"/><rect x="160.20" y="342.62" width="6.90" height="11.78" fill="#7c49ab"/><rect x="28.3" y="216.4" width="138.5" height="137.70000000000002" fill="none" stroke="#777" stroke-width="0.9"/><rect x="213.7" y="215.5" width="138.2" height="137.60000000000002" fill="#c6d3e5"/><rect x="213.70" y="215.50" width="6.06" height="11.77" fill="#7c49ab"/><rect x="219.46" y="215.50" width="6.06" height="11.77" fill="#7c49ab"/><rect x="225.22" y="215.50" width="6.06" height="11.77" fill="#7c49ab"/><rect x="230.97" y="215.50" width="6.06" height="11.77" fill="#a597cf"/><rect x="236.73" y="215.50" width="6.06" height="11.77" fill="#a597cf"/><rect x="242.49" y="215.50" width="6.06" height="11.77" fill="#a597cf"/><rect x="248.25" y="215.50" width="6.06" height="11.77" fill="#b7c4e3"/><rect x="254.01" y="215.50" width="6.06" height="11.77" fill="#afb3dd"/><rect x="259.77" y="215.50" width="6.06" height="11.77" fill="#b7c4e3"/><rect x="265.52" y="215.50" width="6.06" height="11.77" fill="#afb3dd"/><rect x="271.28" y="215.50" width="6.06" height="11.77" fill="#b7c4e3"/><rect x="277.04" y="215.50" width="6.06" height="11.77" fill="#b7c4e3"/><rect x="282.80" y="215.50" width="6.06" height="11.77" fill="#b7c4e3"/><rect x="288.56" y="215.50" width="6.06" height="11.77" fill="#afb3dd"/><rect x="294.32" y="215.50" width="6.06" height="11.77" fill="#afb3dd"/><rect x="300.07" y="215.50" width="6.06" height="11.77" fill="#b7c4e3"/><rect x="305.83" y="215.50" width="6.06" height="11.77" fill="#a597cf"/><rect x="311.59" y="215.50" width="6.06" height="11.77" fill="#afb3dd"/><rect x="317.35" y="215.50" width="6.06" height="11.77" fill="#b7c4e3"/><rect x="323.11" y="215.50" width="6.06" height="11.77" fill="#a597cf"/><rect x="328.87" y="215.50" width="6.06" height="11.77" fill="#a597cf"/><rect x="334.62" y="215.50" width="6.06" height="11.77" fill="#b7c4e3"/><rect x="340.38" y="215.50" width="6.06" height="11.77" fill="#afb3dd"/><rect x="346.14" y="215.50" width="6.06" height="11.77" fill="#b7c4e3"/><rect x="213.70" y="226.97" width="6.06" height="11.77" fill="#a597cf"/><rect x="219.46" y="226.97" width="6.06" height="11.77" fill="#a597cf"/><rect x="225.22" y="226.97" width="6.06" height="11.77" fill="#a597cf"/><rect x="230.97" y="226.97" width="6.06" height="11.77" fill="#c6d3e5"/><rect x="236.73" y="226.97" width="6.06" height="11.77" fill="#a597cf"/><rect x="242.49" y="226.97" width="6.06" height="11.77" fill="#afb3dd"/><rect x="248.25" y="226.97" width="6.06" height="11.77" fill="#d9dce0"/><rect x="254.01" y="226.97" width="6.06" height="11.77" fill="#b7c4e3"/><rect x="259.77" y="226.97" width="6.06" height="11.77" fill="#b7c4e3"/><rect x="265.52" y="226.97" width="6.06" height="11.77" fill="#d9dce0"/><rect x="271.28" y="226.97" width="6.06" height="11.77" fill="#b7c4e3"/><rect x="277.04" y="226.97" width="6.06" height="11.77" fill="#c6d3e5"/><rect x="282.80" y="226.97" width="6.06" height="11.77" fill="#f9e7d8"/><rect x="288.56" y="226.97" width="6.06" height="11.77" fill="#b7c4e3"/><rect x="294.32" y="226.97" width="6.06" height="11.77" fill="#b7c4e3"/><rect x="300.07" y="226.97" width="6.06" height="11.77" fill="#d9dce0"/><rect x="305.83" y="226.97" width="6.06" height="11.77" fill="#b7c4e3"/><rect x="311.59" y="226.97" width="6.06" height="11.77" fill="#a597cf"/><rect x="317.35" y="226.97" width="6.06" height="11.77" fill="#c6d3e5"/><rect x="323.11" y="226.97" width="6.06" height="11.77" fill="#afb3dd"/><rect x="328.87" y="226.97" width="6.06" height="11.77" fill="#afb3dd"/><rect x="334.62" y="226.97" width="6.06" height="11.77" fill="#d9dce0"/><rect x="340.38" y="226.97" width="6.06" height="11.77" fill="#b7c4e3"/><rect x="346.14" y="226.97" width="6.06" height="11.77" fill="#b7c4e3"/><rect x="213.70" y="238.43" width="6.06" height="11.77" fill="#9274bf"/><rect x="219.46" y="238.43" width="6.06" height="11.77" fill="#9274bf"/><rect x="225.22" y="238.43" width="6.06" height="11.77" fill="#9274bf"/><rect x="230.97" y="238.43" width="6.06" height="11.77" fill="#a597cf"/><rect x="236.73" y="238.43" width="6.06" height="11.77" fill="#a597cf"/><rect x="242.49" y="238.43" width="6.06" height="11.77" fill="#afb3dd"/><rect x="248.25" y="238.43" width="6.06" height="11.77" fill="#afb3dd"/><rect x="254.01" y="238.43" width="6.06" height="11.77" fill="#b7c4e3"/><rect x="259.77" y="238.43" width="6.06" height="11.77" fill="#b7c4e3"/><rect x="265.52" y="238.43" width="6.06" height="11.77" fill="#c6d3e5"/><rect x="271.28" y="238.43" width="6.06" height="11.77" fill="#c6d3e5"/><rect x="277.04" y="238.43" width="6.06" height="11.77" fill="#d9dce0"/><rect x="282.80" y="238.43" width="6.06" height="11.77" fill="#c6d3e5"/><rect x="288.56" y="238.43" width="6.06" height="11.77" fill="#c6d3e5"/><rect x="294.32" y="238.43" width="6.06" height="11.77" fill="#d9dce0"/><rect x="300.07" y="238.43" width="6.06" height="11.77" fill="#c6d3e5"/><rect x="305.83" y="238.43" width="6.06" height="11.77" fill="#d9dce0"/><rect x="311.59" y="238.43" width="6.06" height="11.77" fill="#d9dce0"/><rect x="317.35" y="238.43" width="6.06" height="11.77" fill="#b7c4e3"/><rect x="323.11" y="238.43" width="6.06" height="11.77" fill="#b7c4e3"/><rect x="328.87" y="238.43" width="6.06" height="11.77" fill="#b7c4e3"/><rect x="334.62" y="238.43" width="6.06" height="11.77" fill="#d9dce0"/><rect x="340.38" y="238.43" width="6.06" height="11.77" fill="#c6d3e5"/><rect x="346.14" y="238.43" width="6.06" height="11.77" fill="#d9dce0"/><rect x="213.70" y="249.90" width="6.06" height="11.77" fill="#afb3dd"/><rect x="219.46" y="249.90" width="6.06" height="11.77" fill="#afb3dd"/><rect x="225.22" y="249.90" width="6.06" height="11.77" fill="#afb3dd"/><rect x="230.97" y="249.90" width="6.06" height="11.77" fill="#b7c4e3"/><rect x="236.73" y="249.90" width="6.06" height="11.77" fill="#afb3dd"/><rect x="242.49" y="249.90" width="6.06" height="11.77" fill="#afb3dd"/><rect x="248.25" y="249.90" width="6.06" height="11.77" fill="#d9dce0"/><rect x="254.01" y="249.90" width="6.06" height="11.77" fill="#afb3dd"/><rect x="259.77" y="249.90" width="6.06" height="11.77" fill="#afb3dd"/><rect x="265.52" y="249.90" width="6.06" height="11.77" fill="#d9dce0"/><rect x="271.28" y="249.90" width="6.06" height="11.77" fill="#b7c4e3"/><rect x="277.04" y="249.90" width="6.06" height="11.77" fill="#c6d3e5"/><rect x="282.80" y="249.90" width="6.06" height="11.77" fill="#d9dce0"/><rect x="288.56" y="249.90" width="6.06" height="11.77" fill="#b7c4e3"/><rect x="294.32" y="249.90" width="6.06" height="11.77" fill="#b7c4e3"/><rect x="300.07" y="249.90" width="6.06" height="11.77" fill="#d9dce0"/><rect x="305.83" y="249.90" width="6.06" height="11.77" fill="#b7c4e3"/><rect x="311.59" y="249.90" width="6.06" height="11.77" fill="#b7c4e3"/><rect x="317.35" y="249.90" width="6.06" height="11.77" fill="#a597cf"/><rect x="323.11" y="249.90" width="6.06" height="11.77" fill="#b7c4e3"/><rect x="328.87" y="249.90" width="6.06" height="11.77" fill="#b7c4e3"/><rect x="334.62" y="249.90" width="6.06" height="11.77" fill="#b7c4e3"/><rect x="340.38" y="249.90" width="6.06" height="11.77" fill="#b7c4e3"/><rect x="346.14" y="249.90" width="6.06" height="11.77" fill="#d9dce0"/><rect x="213.70" y="261.37" width="6.06" height="11.77" fill="#7c49ab"/><rect x="219.46" y="261.37" width="6.06" height="11.77" fill="#7c49ab"/><rect x="225.22" y="261.37" width="6.06" height="11.77" fill="#7c49ab"/><rect x="230.97" y="261.37" width="6.06" height="11.77" fill="#a597cf"/><rect x="236.73" y="261.37" width="6.06" height="11.77" fill="#afb3dd"/><rect x="242.49" y="261.37" width="6.06" height="11.77" fill="#afb3dd"/><rect x="248.25" y="261.37" width="6.06" height="11.77" fill="#b7c4e3"/><rect x="254.01" y="261.37" width="6.06" height="11.77" fill="#b7c4e3"/><rect x="259.77" y="261.37" width="6.06" height="11.77" fill="#b7c4e3"/><rect x="265.52" y="261.37" width="6.06" height="11.77" fill="#c6d3e5"/><rect x="271.28" y="261.37" width="6.06" height="11.77" fill="#d9dce0"/><rect x="277.04" y="261.37" width="6.06" height="11.77" fill="#d9dce0"/><rect x="282.80" y="261.37" width="6.06" height="11.77" fill="#ffffff"/><rect x="288.56" y="261.37" width="6.06" height="11.77" fill="#d9dce0"/><rect x="294.32" y="261.37" width="6.06" height="11.77" fill="#d9dce0"/><rect x="300.07" y="261.37" width="6.06" height="11.77" fill="#d9dce0"/><rect x="305.83" y="261.37" width="6.06" height="11.77" fill="#d9dce0"/><rect x="311.59" y="261.37" width="6.06" height="11.77" fill="#d9dce0"/><rect x="317.35" y="261.37" width="6.06" height="11.77" fill="#c6d3e5"/><rect x="323.11" y="261.37" width="6.06" height="11.77" fill="#c6d3e5"/><rect x="328.87" y="261.37" width="6.06" height="11.77" fill="#b7c4e3"/><rect x="334.62" y="261.37" width="6.06" height="11.77" fill="#c6d3e5"/><rect x="340.38" y="261.37" width="6.06" height="11.77" fill="#c6d3e5"/><rect x="346.14" y="261.37" width="6.06" height="11.77" fill="#b7c4e3"/><rect x="213.70" y="272.83" width="6.06" height="11.77" fill="#a597cf"/><rect x="219.46" y="272.83" width="6.06" height="11.77" fill="#a597cf"/><rect x="225.22" y="272.83" width="6.06" height="11.77" fill="#a597cf"/><rect x="230.97" y="272.83" width="6.06" height="11.77" fill="#a597cf"/><rect x="236.73" y="272.83" width="6.06" height="11.77" fill="#9274bf"/><rect x="242.49" y="272.83" width="6.06" height="11.77" fill="#b7c4e3"/><rect x="248.25" y="272.83" width="6.06" height="11.77" fill="#afb3dd"/><rect x="254.01" y="272.83" width="6.06" height="11.77" fill="#afb3dd"/><rect x="259.77" y="272.83" width="6.06" height="11.77" fill="#b7c4e3"/><rect x="265.52" y="272.83" width="6.06" height="11.77" fill="#b7c4e3"/><rect x="271.28" y="272.83" width="6.06" height="11.77" fill="#b7c4e3"/><rect x="277.04" y="272.83" width="6.06" height="11.77" fill="#afb3dd"/><rect x="282.80" y="272.83" width="6.06" height="11.77" fill="#b7c4e3"/><rect x="288.56" y="272.83" width="6.06" height="11.77" fill="#afb3dd"/><rect x="294.32" y="272.83" width="6.06" height="11.77" fill="#afb3dd"/><rect x="300.07" y="272.83" width="6.06" height="11.77" fill="#b7c4e3"/><rect x="305.83" y="272.83" width="6.06" height="11.77" fill="#a597cf"/><rect x="311.59" y="272.83" width="6.06" height="11.77" fill="#b7c4e3"/><rect x="317.35" y="272.83" width="6.06" height="11.77" fill="#afb3dd"/><rect x="323.11" y="272.83" width="6.06" height="11.77" fill="#a597cf"/><rect x="328.87" y="272.83" width="6.06" height="11.77" fill="#b7c4e3"/><rect x="334.62" y="272.83" width="6.06" height="11.77" fill="#b7c4e3"/><rect x="340.38" y="272.83" width="6.06" height="11.77" fill="#afb3dd"/><rect x="346.14" y="272.83" width="6.06" height="11.77" fill="#afb3dd"/><rect x="213.70" y="284.30" width="6.06" height="11.77" fill="#7c49ab"/><rect x="219.46" y="284.30" width="6.06" height="11.77" fill="#7c49ab"/><rect x="225.22" y="284.30" width="6.06" height="11.77" fill="#7c49ab"/><rect x="230.97" y="284.30" width="6.06" height="11.77" fill="#afb3dd"/><rect x="236.73" y="284.30" width="6.06" height="11.77" fill="#9274bf"/><rect x="242.49" y="284.30" width="6.06" height="11.77" fill="#a597cf"/><rect x="248.25" y="284.30" width="6.06" height="11.77" fill="#afb3dd"/><rect x="254.01" y="284.30" width="6.06" height="11.77" fill="#afb3dd"/><rect x="259.77" y="284.30" width="6.06" height="11.77" fill="#afb3dd"/><rect x="265.52" y="284.30" width="6.06" height="11.77" fill="#b7c4e3"/><rect x="271.28" y="284.30" width="6.06" height="11.77" fill="#b7c4e3"/><rect x="277.04" y="284.30" width="6.06" height="11.77" fill="#b7c4e3"/><rect x="282.80" y="284.30" width="6.06" height="11.77" fill="#afb3dd"/><rect x="288.56" y="284.30" width="6.06" height="11.77" fill="#afb3dd"/><rect x="294.32" y="284.30" width="6.06" height="11.77" fill="#afb3dd"/><rect x="300.07" y="284.30" width="6.06" height="11.77" fill="#afb3dd"/><rect x="305.83" y="284.30" width="6.06" height="11.77" fill="#afb3dd"/><rect x="311.59" y="284.30" width="6.06" height="11.77" fill="#afb3dd"/><rect x="317.35" y="284.30" width="6.06" height="11.77" fill="#9274bf"/><rect x="323.11" y="284.30" width="6.06" height="11.77" fill="#afb3dd"/><rect x="328.87" y="284.30" width="6.06" height="11.77" fill="#afb3dd"/><rect x="334.62" y="284.30" width="6.06" height="11.77" fill="#9274bf"/><rect x="340.38" y="284.30" width="6.06" height="11.77" fill="#afb3dd"/><rect x="346.14" y="284.30" width="6.06" height="11.77" fill="#9274bf"/><rect x="213.70" y="295.77" width="6.06" height="11.77" fill="#b7c4e3"/><rect x="219.46" y="295.77" width="6.06" height="11.77" fill="#b7c4e3"/><rect x="225.22" y="295.77" width="6.06" height="11.77" fill="#b7c4e3"/><rect x="230.97" y="295.77" width="6.06" height="11.77" fill="#c6d3e5"/><rect x="236.73" y="295.77" width="6.06" height="11.77" fill="#b7c4e3"/><rect x="242.49" y="295.77" width="6.06" height="11.77" fill="#b7c4e3"/><rect x="248.25" y="295.77" width="6.06" height="11.77" fill="#d9dce0"/><rect x="254.01" y="295.77" width="6.06" height="11.77" fill="#c6d3e5"/><rect x="259.77" y="295.77" width="6.06" height="11.77" fill="#c6d3e5"/><rect x="265.52" y="295.77" width="6.06" height="11.77" fill="#f9e7d8"/><rect x="271.28" y="295.77" width="6.06" height="11.77" fill="#c6d3e5"/><rect x="277.04" y="295.77" width="6.06" height="11.77" fill="#b7c4e3"/><rect x="282.80" y="295.77" width="6.06" height="11.77" fill="#f9e7d8"/><rect x="288.56" y="295.77" width="6.06" height="11.77" fill="#d9dce0"/><rect x="294.32" y="295.77" width="6.06" height="11.77" fill="#c6d3e5"/><rect x="300.07" y="295.77" width="6.06" height="11.77" fill="#f9e7d8"/><rect x="305.83" y="295.77" width="6.06" height="11.77" fill="#c6d3e5"/><rect x="311.59" y="295.77" width="6.06" height="11.77" fill="#d9dce0"/><rect x="317.35" y="295.77" width="6.06" height="11.77" fill="#c6d3e5"/><rect x="323.11" y="295.77" width="6.06" height="11.77" fill="#b7c4e3"/><rect x="328.87" y="295.77" width="6.06" height="11.77" fill="#c6d3e5"/><rect x="334.62" y="295.77" width="6.06" height="11.77" fill="#c6d3e5"/><rect x="340.38" y="295.77" width="6.06" height="11.77" fill="#b7c4e3"/><rect x="346.14" y="295.77" width="6.06" height="11.77" fill="#b7c4e3"/><rect x="213.70" y="307.23" width="6.06" height="11.77" fill="#9274bf"/><rect x="219.46" y="307.23" width="6.06" height="11.77" fill="#9274bf"/><rect x="225.22" y="307.23" width="6.06" height="11.77" fill="#9274bf"/><rect x="230.97" y="307.23" width="6.06" height="11.77" fill="#b7c4e3"/><rect x="236.73" y="307.23" width="6.06" height="11.77" fill="#b7c4e3"/><rect x="242.49" y="307.23" width="6.06" height="11.77" fill="#b7c4e3"/><rect x="248.25" y="307.23" width="6.06" height="11.77" fill="#c6d3e5"/><rect x="254.01" y="307.23" width="6.06" height="11.77" fill="#b7c4e3"/><rect x="259.77" y="307.23" width="6.06" height="11.77" fill="#b7c4e3"/><rect x="265.52" y="307.23" width="6.06" height="11.77" fill="#b7c4e3"/><rect x="271.28" y="307.23" width="6.06" height="11.77" fill="#b7c4e3"/><rect x="277.04" y="307.23" width="6.06" height="11.77" fill="#c6d3e5"/><rect x="282.80" y="307.23" width="6.06" height="11.77" fill="#d9dce0"/><rect x="288.56" y="307.23" width="6.06" height="11.77" fill="#c6d3e5"/><rect x="294.32" y="307.23" width="6.06" height="11.77" fill="#d9dce0"/><rect x="300.07" y="307.23" width="6.06" height="11.77" fill="#c6d3e5"/><rect x="305.83" y="307.23" width="6.06" height="11.77" fill="#c6d3e5"/><rect x="311.59" y="307.23" width="6.06" height="11.77" fill="#b7c4e3"/><rect x="317.35" y="307.23" width="6.06" height="11.77" fill="#c6d3e5"/><rect x="323.11" y="307.23" width="6.06" height="11.77" fill="#c6d3e5"/><rect x="328.87" y="307.23" width="6.06" height="11.77" fill="#c6d3e5"/><rect x="334.62" y="307.23" width="6.06" height="11.77" fill="#ffffff"/><rect x="340.38" y="307.23" width="6.06" height="11.77" fill="#ffffff"/><rect x="346.14" y="307.23" width="6.06" height="11.77" fill="#ffffff"/><rect x="213.70" y="318.70" width="6.06" height="11.77" fill="#afb3dd"/><rect x="219.46" y="318.70" width="6.06" height="11.77" fill="#afb3dd"/><rect x="225.22" y="318.70" width="6.06" height="11.77" fill="#afb3dd"/><rect x="230.97" y="318.70" width="6.06" height="11.77" fill="#b7c4e3"/><rect x="236.73" y="318.70" width="6.06" height="11.77" fill="#b7c4e3"/><rect x="242.49" y="318.70" width="6.06" height="11.77" fill="#a597cf"/><rect x="248.25" y="318.70" width="6.06" height="11.77" fill="#b7c4e3"/><rect x="254.01" y="318.70" width="6.06" height="11.77" fill="#b7c4e3"/><rect x="259.77" y="318.70" width="6.06" height="11.77" fill="#b7c4e3"/><rect x="265.52" y="318.70" width="6.06" height="11.77" fill="#b7c4e3"/><rect x="271.28" y="318.70" width="6.06" height="11.77" fill="#b7c4e3"/><rect x="277.04" y="318.70" width="6.06" height="11.77" fill="#b7c4e3"/><rect x="282.80" y="318.70" width="6.06" height="11.77" fill="#d9dce0"/><rect x="288.56" y="318.70" width="6.06" height="11.77" fill="#d9dce0"/><rect x="294.32" y="318.70" width="6.06" height="11.77" fill="#c6d3e5"/><rect x="300.07" y="318.70" width="6.06" height="11.77" fill="#ebe2dc"/><rect x="305.83" y="318.70" width="6.06" height="11.77" fill="#c6d3e5"/><rect x="311.59" y="318.70" width="6.06" height="11.77" fill="#d9dce0"/><rect x="317.35" y="318.70" width="6.06" height="11.77" fill="#c6d3e5"/><rect x="323.11" y="318.70" width="6.06" height="11.77" fill="#b7c4e3"/><rect x="328.87" y="318.70" width="6.06" height="11.77" fill="#b7c4e3"/><rect x="334.62" y="318.70" width="6.06" height="11.77" fill="#b7c4e3"/><rect x="340.38" y="318.70" width="6.06" height="11.77" fill="#afb3dd"/><rect x="346.14" y="318.70" width="6.06" height="11.77" fill="#b7c4e3"/><rect x="213.70" y="330.17" width="6.06" height="11.77" fill="#9274bf"/><rect x="219.46" y="330.17" width="6.06" height="11.77" fill="#9274bf"/><rect x="225.22" y="330.17" width="6.06" height="11.77" fill="#9274bf"/><rect x="230.97" y="330.17" width="6.06" height="11.77" fill="#afb3dd"/><rect x="236.73" y="330.17" width="6.06" height="11.77" fill="#b7c4e3"/><rect x="242.49" y="330.17" width="6.06" height="11.77" fill="#b7c4e3"/><rect x="248.25" y="330.17" width="6.06" height="11.77" fill="#b7c4e3"/><rect x="254.01" y="330.17" width="6.06" height="11.77" fill="#b7c4e3"/><rect x="259.77" y="330.17" width="6.06" height="11.77" fill="#b7c4e3"/><rect x="265.52" y="330.17" width="6.06" height="11.77" fill="#ffffff"/><rect x="271.28" y="330.17" width="6.06" height="11.77" fill="#b7c4e3"/><rect x="277.04" y="330.17" width="6.06" height="11.77" fill="#b7c4e3"/><rect x="282.80" y="330.17" width="6.06" height="11.77" fill="#c6d3e5"/><rect x="288.56" y="330.17" width="6.06" height="11.77" fill="#c6d3e5"/><rect x="294.32" y="330.17" width="6.06" height="11.77" fill="#c6d3e5"/><rect x="300.07" y="330.17" width="6.06" height="11.77" fill="#b7c4e3"/><rect x="305.83" y="330.17" width="6.06" height="11.77" fill="#a597cf"/><rect x="311.59" y="330.17" width="6.06" height="11.77" fill="#afb3dd"/><rect x="317.35" y="330.17" width="6.06" height="11.77" fill="#afb3dd"/><rect x="323.11" y="330.17" width="6.06" height="11.77" fill="#afb3dd"/><rect x="328.87" y="330.17" width="6.06" height="11.77" fill="#afb3dd"/><rect x="334.62" y="330.17" width="6.06" height="11.77" fill="#afb3dd"/><rect x="340.38" y="330.17" width="6.06" height="11.77" fill="#a597cf"/><rect x="346.14" y="330.17" width="6.06" height="11.77" fill="#afb3dd"/><rect x="213.70" y="341.63" width="6.06" height="11.77" fill="#a597cf"/><rect x="219.46" y="341.63" width="6.06" height="11.77" fill="#a597cf"/><rect x="225.22" y="341.63" width="6.06" height="11.77" fill="#a597cf"/><rect x="230.97" y="341.63" width="6.06" height="11.77" fill="#afb3dd"/><rect x="236.73" y="341.63" width="6.06" height="11.77" fill="#afb3dd"/><rect x="242.49" y="341.63" width="6.06" height="11.77" fill="#afb3dd"/><rect x="248.25" y="341.63" width="6.06" height="11.77" fill="#b7c4e3"/><rect x="254.01" y="341.63" width="6.06" height="11.77" fill="#b7c4e3"/><rect x="259.77" y="341.63" width="6.06" height="11.77" fill="#b7c4e3"/><rect x="265.52" y="341.63" width="6.06" height="11.77" fill="#b7c4e3"/><rect x="271.28" y="341.63" width="6.06" height="11.77" fill="#b7c4e3"/><rect x="277.04" y="341.63" width="6.06" height="11.77" fill="#b7c4e3"/><rect x="282.80" y="341.63" width="6.06" height="11.77" fill="#c6d3e5"/><rect x="288.56" y="341.63" width="6.06" height="11.77" fill="#b7c4e3"/><rect x="294.32" y="341.63" width="6.06" height="11.77" fill="#b7c4e3"/><rect x="300.07" y="341.63" width="6.06" height="11.77" fill="#c6d3e5"/><rect x="305.83" y="341.63" width="6.06" height="11.77" fill="#b7c4e3"/><rect x="311.59" y="341.63" width="6.06" height="11.77" fill="#b7c4e3"/><rect x="317.35" y="341.63" width="6.06" height="11.77" fill="#c6d3e5"/><rect x="323.11" y="341.63" width="6.06" height="11.77" fill="#b7c4e3"/><rect x="328.87" y="341.63" width="6.06" height="11.77" fill="#a597cf"/><rect x="334.62" y="341.63" width="6.06" height="11.77" fill="#a597cf"/><rect x="340.38" y="341.63" width="6.06" height="11.77" fill="#9274bf"/><rect x="346.14" y="341.63" width="6.06" height="11.77" fill="#9274bf"/><rect x="213.7" y="215.5" width="138.2" height="137.60000000000002" fill="none" stroke="#777" stroke-width="0.9"/><rect x="367.5" y="214.9" width="138.3" height="137.4" fill="#c6d3e5"/><rect x="367.50" y="214.90" width="6.06" height="11.75" fill="#a597cf"/><rect x="373.26" y="214.90" width="6.06" height="11.75" fill="#ffffff"/><rect x="379.02" y="214.90" width="6.06" height="11.75" fill="#ffffff"/><rect x="384.79" y="214.90" width="6.06" height="11.75" fill="#afb3dd"/><rect x="390.55" y="214.90" width="6.06" height="11.75" fill="#afb3dd"/><rect x="396.31" y="214.90" width="6.06" height="11.75" fill="#afb3dd"/><rect x="402.07" y="214.90" width="6.06" height="11.75" fill="#b7c4e3"/><rect x="407.84" y="214.90" width="6.06" height="11.75" fill="#a597cf"/><rect x="413.60" y="214.90" width="6.06" height="11.75" fill="#afb3dd"/><rect x="419.36" y="214.90" width="6.06" height="11.75" fill="#afb3dd"/><rect x="425.12" y="214.90" width="6.06" height="11.75" fill="#afb3dd"/><rect x="430.89" y="214.90" width="6.06" height="11.75" fill="#afb3dd"/><rect x="436.65" y="214.90" width="6.06" height="11.75" fill="#b7c4e3"/><rect x="442.41" y="214.90" width="6.06" height="11.75" fill="#b7c4e3"/><rect x="448.18" y="214.90" width="6.06" height="11.75" fill="#afb3dd"/><rect x="453.94" y="214.90" width="6.06" height="11.75" fill="#b7c4e3"/><rect x="459.70" y="214.90" width="6.06" height="11.75" fill="#afb3dd"/><rect x="465.46" y="214.90" width="6.06" height="11.75" fill="#ffffff"/><rect x="471.23" y="214.90" width="6.06" height="11.75" fill="#b7c4e3"/><rect x="476.99" y="214.90" width="6.06" height="11.75" fill="#b7c4e3"/><rect x="482.75" y="214.90" width="6.06" height="11.75" fill="#b7c4e3"/><rect x="488.51" y="214.90" width="6.06" height="11.75" fill="#b7c4e3"/><rect x="494.27" y="214.90" width="6.06" height="11.75" fill="#b7c4e3"/><rect x="500.04" y="214.90" width="6.06" height="11.75" fill="#b7c4e3"/><rect x="367.50" y="226.35" width="6.06" height="11.75" fill="#afb3dd"/><rect x="373.26" y="226.35" width="6.06" height="11.75" fill="#a597cf"/><rect x="379.02" y="226.35" width="6.06" height="11.75" fill="#ffffff"/><rect x="384.79" y="226.35" width="6.06" height="11.75" fill="#afb3dd"/><rect x="390.55" y="226.35" width="6.06" height="11.75" fill="#afb3dd"/><rect x="396.31" y="226.35" width="6.06" height="11.75" fill="#b7c4e3"/><rect x="402.07" y="226.35" width="6.06" height="11.75" fill="#ffffff"/><rect x="407.84" y="226.35" width="6.06" height="11.75" fill="#b7c4e3"/><rect x="413.60" y="226.35" width="6.06" height="11.75" fill="#b7c4e3"/><rect x="419.36" y="226.35" width="6.06" height="11.75" fill="#b7c4e3"/><rect x="425.12" y="226.35" width="6.06" height="11.75" fill="#b7c4e3"/><rect x="430.89" y="226.35" width="6.06" height="11.75" fill="#b7c4e3"/><rect x="436.65" y="226.35" width="6.06" height="11.75" fill="#b7c4e3"/><rect x="442.41" y="226.35" width="6.06" height="11.75" fill="#b7c4e3"/><rect x="448.18" y="226.35" width="6.06" height="11.75" fill="#b7c4e3"/><rect x="453.94" y="226.35" width="6.06" height="11.75" fill="#afb3dd"/><rect x="459.70" y="226.35" width="6.06" height="11.75" fill="#afb3dd"/><rect x="465.46" y="226.35" width="6.06" height="11.75" fill="#b7c4e3"/><rect x="471.23" y="226.35" width="6.06" height="11.75" fill="#b7c4e3"/><rect x="476.99" y="226.35" width="6.06" height="11.75" fill="#b7c4e3"/><rect x="482.75" y="226.35" width="6.06" height="11.75" fill="#ffffff"/><rect x="488.51" y="226.35" width="6.06" height="11.75" fill="#b7c4e3"/><rect x="494.27" y="226.35" width="6.06" height="11.75" fill="#b7c4e3"/><rect x="500.04" y="226.35" width="6.06" height="11.75" fill="#b7c4e3"/><rect x="367.50" y="237.80" width="6.06" height="11.75" fill="#a597cf"/><rect x="373.26" y="237.80" width="6.06" height="11.75" fill="#afb3dd"/><rect x="379.02" y="237.80" width="6.06" height="11.75" fill="#afb3dd"/><rect x="384.79" y="237.80" width="6.06" height="11.75" fill="#afb3dd"/><rect x="390.55" y="237.80" width="6.06" height="11.75" fill="#b7c4e3"/><rect x="396.31" y="237.80" width="6.06" height="11.75" fill="#b7c4e3"/><rect x="402.07" y="237.80" width="6.06" height="11.75" fill="#c6d3e5"/><rect x="407.84" y="237.80" width="6.06" height="11.75" fill="#b7c4e3"/><rect x="413.60" y="237.80" width="6.06" height="11.75" fill="#c6d3e5"/><rect x="419.36" y="237.80" width="6.06" height="11.75" fill="#c6d3e5"/><rect x="425.12" y="237.80" width="6.06" height="11.75" fill="#b7c4e3"/><rect x="430.89" y="237.80" width="6.06" height="11.75" fill="#afb3dd"/><rect x="436.65" y="237.80" width="6.06" height="11.75" fill="#c6d3e5"/><rect x="442.41" y="237.80" width="6.06" height="11.75" fill="#c6d3e5"/><rect x="448.18" y="237.80" width="6.06" height="11.75" fill="#c6d3e5"/><rect x="453.94" y="237.80" width="6.06" height="11.75" fill="#c6d3e5"/><rect x="459.70" y="237.80" width="6.06" height="11.75" fill="#c6d3e5"/><rect x="465.46" y="237.80" width="6.06" height="11.75" fill="#9274bf"/><rect x="471.23" y="237.80" width="6.06" height="11.75" fill="#c6d3e5"/><rect x="476.99" y="237.80" width="6.06" height="11.75" fill="#b7c4e3"/><rect x="482.75" y="237.80" width="6.06" height="11.75" fill="#b7c4e3"/><rect x="488.51" y="237.80" width="6.06" height="11.75" fill="#b7c4e3"/><rect x="494.27" y="237.80" width="6.06" height="11.75" fill="#b7c4e3"/><rect x="500.04" y="237.80" width="6.06" height="11.75" fill="#b7c4e3"/><rect x="367.50" y="249.25" width="6.06" height="11.75" fill="#a597cf"/><rect x="373.26" y="249.25" width="6.06" height="11.75" fill="#a597cf"/><rect x="379.02" y="249.25" width="6.06" height="11.75" fill="#afb3dd"/><rect x="384.79" y="249.25" width="6.06" height="11.75" fill="#afb3dd"/><rect x="390.55" y="249.25" width="6.06" height="11.75" fill="#b7c4e3"/><rect x="396.31" y="249.25" width="6.06" height="11.75" fill="#b7c4e3"/><rect x="402.07" y="249.25" width="6.06" height="11.75" fill="#b7c4e3"/><rect x="407.84" y="249.25" width="6.06" height="11.75" fill="#b7c4e3"/><rect x="413.60" y="249.25" width="6.06" height="11.75" fill="#b7c4e3"/><rect x="419.36" y="249.25" width="6.06" height="11.75" fill="#b7c4e3"/><rect x="425.12" y="249.25" width="6.06" height="11.75" fill="#c6d3e5"/><rect x="430.89" y="249.25" width="6.06" height="11.75" fill="#c6d3e5"/><rect x="436.65" y="249.25" width="6.06" height="11.75" fill="#c6d3e5"/><rect x="442.41" y="249.25" width="6.06" height="11.75" fill="#c6d3e5"/><rect x="448.18" y="249.25" width="6.06" height="11.75" fill="#c6d3e5"/><rect x="453.94" y="249.25" width="6.06" height="11.75" fill="#c6d3e5"/><rect x="459.70" y="249.25" width="6.06" height="11.75" fill="#c6d3e5"/><rect x="465.46" y="249.25" width="6.06" height="11.75" fill="#c6d3e5"/><rect x="471.23" y="249.25" width="6.06" height="11.75" fill="#c6d3e5"/><rect x="476.99" y="249.25" width="6.06" height="11.75" fill="#c6d3e5"/><rect x="482.75" y="249.25" width="6.06" height="11.75" fill="#b7c4e3"/><rect x="488.51" y="249.25" width="6.06" height="11.75" fill="#b7c4e3"/><rect x="494.27" y="249.25" width="6.06" height="11.75" fill="#b7c4e3"/><rect x="500.04" y="249.25" width="6.06" height="11.75" fill="#b7c4e3"/><rect x="367.50" y="260.70" width="6.06" height="11.75" fill="#afb3dd"/><rect x="373.26" y="260.70" width="6.06" height="11.75" fill="#afb3dd"/><rect x="379.02" y="260.70" width="6.06" height="11.75" fill="#afb3dd"/><rect x="384.79" y="260.70" width="6.06" height="11.75" fill="#afb3dd"/><rect x="390.55" y="260.70" width="6.06" height="11.75" fill="#b7c4e3"/><rect x="396.31" y="260.70" width="6.06" height="11.75" fill="#9274bf"/><rect x="402.07" y="260.70" width="6.06" height="11.75" fill="#c6d3e5"/><rect x="407.84" y="260.70" width="6.06" height="11.75" fill="#c6d3e5"/><rect x="413.60" y="260.70" width="6.06" height="11.75" fill="#c6d3e5"/><rect x="419.36" y="260.70" width="6.06" height="11.75" fill="#c6d3e5"/><rect x="425.12" y="260.70" width="6.06" height="11.75" fill="#c6d3e5"/><rect x="430.89" y="260.70" width="6.06" height="11.75" fill="#c6d3e5"/><rect x="436.65" y="260.70" width="6.06" height="11.75" fill="#c6d3e5"/><rect x="442.41" y="260.70" width="6.06" height="11.75" fill="#c6d3e5"/><rect x="448.18" y="260.70" width="6.06" height="11.75" fill="#c6d3e5"/><rect x="453.94" y="260.70" width="6.06" height="11.75" fill="#c6d3e5"/><rect x="459.70" y="260.70" width="6.06" height="11.75" fill="#c6d3e5"/><rect x="465.46" y="260.70" width="6.06" height="11.75" fill="#c6d3e5"/><rect x="471.23" y="260.70" width="6.06" height="11.75" fill="#c6d3e5"/><rect x="476.99" y="260.70" width="6.06" height="11.75" fill="#c6d3e5"/><rect x="482.75" y="260.70" width="6.06" height="11.75" fill="#b7c4e3"/><rect x="488.51" y="260.70" width="6.06" height="11.75" fill="#b7c4e3"/><rect x="494.27" y="260.70" width="6.06" height="11.75" fill="#b7c4e3"/><rect x="500.04" y="260.70" width="6.06" height="11.75" fill="#b7c4e3"/><rect x="367.50" y="272.15" width="6.06" height="11.75" fill="#afb3dd"/><rect x="373.26" y="272.15" width="6.06" height="11.75" fill="#a597cf"/><rect x="379.02" y="272.15" width="6.06" height="11.75" fill="#a597cf"/><rect x="384.79" y="272.15" width="6.06" height="11.75" fill="#afb3dd"/><rect x="390.55" y="272.15" width="6.06" height="11.75" fill="#b7c4e3"/><rect x="396.31" y="272.15" width="6.06" height="11.75" fill="#c6d3e5"/><rect x="402.07" y="272.15" width="6.06" height="11.75" fill="#c6d3e5"/><rect x="407.84" y="272.15" width="6.06" height="11.75" fill="#b7c4e3"/><rect x="413.60" y="272.15" width="6.06" height="11.75" fill="#c6d3e5"/><rect x="419.36" y="272.15" width="6.06" height="11.75" fill="#c6d3e5"/><rect x="425.12" y="272.15" width="6.06" height="11.75" fill="#c6d3e5"/><rect x="430.89" y="272.15" width="6.06" height="11.75" fill="#c6d3e5"/><rect x="436.65" y="272.15" width="6.06" height="11.75" fill="#c6d3e5"/><rect x="442.41" y="272.15" width="6.06" height="11.75" fill="#c6d3e5"/><rect x="448.18" y="272.15" width="6.06" height="11.75" fill="#d9dce0"/><rect x="453.94" y="272.15" width="6.06" height="11.75" fill="#c6d3e5"/><rect x="459.70" y="272.15" width="6.06" height="11.75" fill="#c6d3e5"/><rect x="465.46" y="272.15" width="6.06" height="11.75" fill="#c6d3e5"/><rect x="471.23" y="272.15" width="6.06" height="11.75" fill="#b7c4e3"/><rect x="476.99" y="272.15" width="6.06" height="11.75" fill="#b7c4e3"/><rect x="482.75" y="272.15" width="6.06" height="11.75" fill="#b7c4e3"/><rect x="488.51" y="272.15" width="6.06" height="11.75" fill="#afb3dd"/><rect x="494.27" y="272.15" width="6.06" height="11.75" fill="#b7c4e3"/><rect x="500.04" y="272.15" width="6.06" height="11.75" fill="#b7c4e3"/><rect x="367.50" y="283.60" width="6.06" height="11.75" fill="#afb3dd"/><rect x="373.26" y="283.60" width="6.06" height="11.75" fill="#afb3dd"/><rect x="379.02" y="283.60" width="6.06" height="11.75" fill="#afb3dd"/><rect x="384.79" y="283.60" width="6.06" height="11.75" fill="#b7c4e3"/><rect x="390.55" y="283.60" width="6.06" height="11.75" fill="#afb3dd"/><rect x="396.31" y="283.60" width="6.06" height="11.75" fill="#b7c4e3"/><rect x="402.07" y="283.60" width="6.06" height="11.75" fill="#c6d3e5"/><rect x="407.84" y="283.60" width="6.06" height="11.75" fill="#b7c4e3"/><rect x="413.60" y="283.60" width="6.06" height="11.75" fill="#c6d3e5"/><rect x="419.36" y="283.60" width="6.06" height="11.75" fill="#c6d3e5"/><rect x="425.12" y="283.60" width="6.06" height="11.75" fill="#c6d3e5"/><rect x="430.89" y="283.60" width="6.06" height="11.75" fill="#c6d3e5"/><rect x="436.65" y="283.60" width="6.06" height="11.75" fill="#c6d3e5"/><rect x="442.41" y="283.60" width="6.06" height="11.75" fill="#c6d3e5"/><rect x="448.18" y="283.60" width="6.06" height="11.75" fill="#c6d3e5"/><rect x="453.94" y="283.60" width="6.06" height="11.75" fill="#b7c4e3"/><rect x="459.70" y="283.60" width="6.06" height="11.75" fill="#b7c4e3"/><rect x="465.46" y="283.60" width="6.06" height="11.75" fill="#c6d3e5"/><rect x="471.23" y="283.60" width="6.06" height="11.75" fill="#c6d3e5"/><rect x="476.99" y="283.60" width="6.06" height="11.75" fill="#c6d3e5"/><rect x="482.75" y="283.60" width="6.06" height="11.75" fill="#b7c4e3"/><rect x="488.51" y="283.60" width="6.06" height="11.75" fill="#b7c4e3"/><rect x="494.27" y="283.60" width="6.06" height="11.75" fill="#b7c4e3"/><rect x="500.04" y="283.60" width="6.06" height="11.75" fill="#b7c4e3"/><rect x="367.50" y="295.05" width="6.06" height="11.75" fill="#afb3dd"/><rect x="373.26" y="295.05" width="6.06" height="11.75" fill="#afb3dd"/><rect x="379.02" y="295.05" width="6.06" height="11.75" fill="#afb3dd"/><rect x="384.79" y="295.05" width="6.06" height="11.75" fill="#afb3dd"/><rect x="390.55" y="295.05" width="6.06" height="11.75" fill="#b7c4e3"/><rect x="396.31" y="295.05" width="6.06" height="11.75" fill="#c6d3e5"/><rect x="402.07" y="295.05" width="6.06" height="11.75" fill="#b7c4e3"/><rect x="407.84" y="295.05" width="6.06" height="11.75" fill="#c6d3e5"/><rect x="413.60" y="295.05" width="6.06" height="11.75" fill="#c6d3e5"/><rect x="419.36" y="295.05" width="6.06" height="11.75" fill="#c6d3e5"/><rect x="425.12" y="295.05" width="6.06" height="11.75" fill="#b7c4e3"/><rect x="430.89" y="295.05" width="6.06" height="11.75" fill="#c6d3e5"/><rect x="436.65" y="295.05" width="6.06" height="11.75" fill="#c6d3e5"/><rect x="442.41" y="295.05" width="6.06" height="11.75" fill="#c6d3e5"/><rect x="448.18" y="295.05" width="6.06" height="11.75" fill="#c6d3e5"/><rect x="453.94" y="295.05" width="6.06" height="11.75" fill="#c6d3e5"/><rect x="459.70" y="295.05" width="6.06" height="11.75" fill="#c6d3e5"/><rect x="465.46" y="295.05" width="6.06" height="11.75" fill="#d9dce0"/><rect x="471.23" y="295.05" width="6.06" height="11.75" fill="#c6d3e5"/><rect x="476.99" y="295.05" width="6.06" height="11.75" fill="#c6d3e5"/><rect x="482.75" y="295.05" width="6.06" height="11.75" fill="#c6d3e5"/><rect x="488.51" y="295.05" width="6.06" height="11.75" fill="#c6d3e5"/><rect x="494.27" y="295.05" width="6.06" height="11.75" fill="#b7c4e3"/><rect x="500.04" y="295.05" width="6.06" height="11.75" fill="#b7c4e3"/><rect x="367.50" y="306.50" width="6.06" height="11.75" fill="#afb3dd"/><rect x="373.26" y="306.50" width="6.06" height="11.75" fill="#afb3dd"/><rect x="379.02" y="306.50" width="6.06" height="11.75" fill="#afb3dd"/><rect x="384.79" y="306.50" width="6.06" height="11.75" fill="#afb3dd"/><rect x="390.55" y="306.50" width="6.06" height="11.75" fill="#afb3dd"/><rect x="396.31" y="306.50" width="6.06" height="11.75" fill="#afb3dd"/><rect x="402.07" y="306.50" width="6.06" height="11.75" fill="#c6d3e5"/><rect x="407.84" y="306.50" width="6.06" height="11.75" fill="#b7c4e3"/><rect x="413.60" y="306.50" width="6.06" height="11.75" fill="#b7c4e3"/><rect x="419.36" y="306.50" width="6.06" height="11.75" fill="#c6d3e5"/><rect x="425.12" y="306.50" width="6.06" height="11.75" fill="#c6d3e5"/><rect x="430.89" y="306.50" width="6.06" height="11.75" fill="#d9dce0"/><rect x="436.65" y="306.50" width="6.06" height="11.75" fill="#b7c4e3"/><rect x="442.41" y="306.50" width="6.06" height="11.75" fill="#c6d3e5"/><rect x="448.18" y="306.50" width="6.06" height="11.75" fill="#b7c4e3"/><rect x="453.94" y="306.50" width="6.06" height="11.75" fill="#c6d3e5"/><rect x="459.70" y="306.50" width="6.06" height="11.75" fill="#c6d3e5"/><rect x="465.46" y="306.50" width="6.06" height="11.75" fill="#c6d3e5"/><rect x="471.23" y="306.50" width="6.06" height="11.75" fill="#c6d3e5"/><rect x="476.99" y="306.50" width="6.06" height="11.75" fill="#c6d3e5"/><rect x="482.75" y="306.50" width="6.06" height="11.75" fill="#b7c4e3"/><rect x="488.51" y="306.50" width="6.06" height="11.75" fill="#afb3dd"/><rect x="494.27" y="306.50" width="6.06" height="11.75" fill="#afb3dd"/><rect x="500.04" y="306.50" width="6.06" height="11.75" fill="#b7c4e3"/><rect x="367.50" y="317.95" width="6.06" height="11.75" fill="#afb3dd"/><rect x="373.26" y="317.95" width="6.06" height="11.75" fill="#afb3dd"/><rect x="379.02" y="317.95" width="6.06" height="11.75" fill="#afb3dd"/><rect x="384.79" y="317.95" width="6.06" height="11.75" fill="#afb3dd"/><rect x="390.55" y="317.95" width="6.06" height="11.75" fill="#b7c4e3"/><rect x="396.31" y="317.95" width="6.06" height="11.75" fill="#c6d3e5"/><rect x="402.07" y="317.95" width="6.06" height="11.75" fill="#c6d3e5"/><rect x="407.84" y="317.95" width="6.06" height="11.75" fill="#c6d3e5"/><rect x="413.60" y="317.95" width="6.06" height="11.75" fill="#c6d3e5"/><rect x="419.36" y="317.95" width="6.06" height="11.75" fill="#c6d3e5"/><rect x="425.12" y="317.95" width="6.06" height="11.75" fill="#c6d3e5"/><rect x="430.89" y="317.95" width="6.06" height="11.75" fill="#c6d3e5"/><rect x="436.65" y="317.95" width="6.06" height="11.75" fill="#c6d3e5"/><rect x="442.41" y="317.95" width="6.06" height="11.75" fill="#c6d3e5"/><rect x="448.18" y="317.95" width="6.06" height="11.75" fill="#c6d3e5"/><rect x="453.94" y="317.95" width="6.06" height="11.75" fill="#c6d3e5"/><rect x="459.70" y="317.95" width="6.06" height="11.75" fill="#c6d3e5"/><rect x="465.46" y="317.95" width="6.06" height="11.75" fill="#d9dce0"/><rect x="471.23" y="317.95" width="6.06" height="11.75" fill="#c6d3e5"/><rect x="476.99" y="317.95" width="6.06" height="11.75" fill="#b7c4e3"/><rect x="482.75" y="317.95" width="6.06" height="11.75" fill="#c6d3e5"/><rect x="488.51" y="317.95" width="6.06" height="11.75" fill="#b7c4e3"/><rect x="494.27" y="317.95" width="6.06" height="11.75" fill="#b7c4e3"/><rect x="500.04" y="317.95" width="6.06" height="11.75" fill="#c6d3e5"/><rect x="367.50" y="329.40" width="6.06" height="11.75" fill="#afb3dd"/><rect x="373.26" y="329.40" width="6.06" height="11.75" fill="#b7c4e3"/><rect x="379.02" y="329.40" width="6.06" height="11.75" fill="#b7c4e3"/><rect x="384.79" y="329.40" width="6.06" height="11.75" fill="#b7c4e3"/><rect x="390.55" y="329.40" width="6.06" height="11.75" fill="#b7c4e3"/><rect x="396.31" y="329.40" width="6.06" height="11.75" fill="#c6d3e5"/><rect x="402.07" y="329.40" width="6.06" height="11.75" fill="#c6d3e5"/><rect x="407.84" y="329.40" width="6.06" height="11.75" fill="#c6d3e5"/><rect x="413.60" y="329.40" width="6.06" height="11.75" fill="#c6d3e5"/><rect x="419.36" y="329.40" width="6.06" height="11.75" fill="#c6d3e5"/><rect x="425.12" y="329.40" width="6.06" height="11.75" fill="#c6d3e5"/><rect x="430.89" y="329.40" width="6.06" height="11.75" fill="#c6d3e5"/><rect x="436.65" y="329.40" width="6.06" height="11.75" fill="#c6d3e5"/><rect x="442.41" y="329.40" width="6.06" height="11.75" fill="#c6d3e5"/><rect x="448.18" y="329.40" width="6.06" height="11.75" fill="#c6d3e5"/><rect x="453.94" y="329.40" width="6.06" height="11.75" fill="#c6d3e5"/><rect x="459.70" y="329.40" width="6.06" height="11.75" fill="#c6d3e5"/><rect x="465.46" y="329.40" width="6.06" height="11.75" fill="#c6d3e5"/><rect x="471.23" y="329.40" width="6.06" height="11.75" fill="#c6d3e5"/><rect x="476.99" y="329.40" width="6.06" height="11.75" fill="#c6d3e5"/><rect x="482.75" y="329.40" width="6.06" height="11.75" fill="#b7c4e3"/><rect x="488.51" y="329.40" width="6.06" height="11.75" fill="#b7c4e3"/><rect x="494.27" y="329.40" width="6.06" height="11.75" fill="#b7c4e3"/><rect x="500.04" y="329.40" width="6.06" height="11.75" fill="#b7c4e3"/><rect x="367.50" y="340.85" width="6.06" height="11.75" fill="#afb3dd"/><rect x="373.26" y="340.85" width="6.06" height="11.75" fill="#b7c4e3"/><rect x="379.02" y="340.85" width="6.06" height="11.75" fill="#b7c4e3"/><rect x="384.79" y="340.85" width="6.06" height="11.75" fill="#b7c4e3"/><rect x="390.55" y="340.85" width="6.06" height="11.75" fill="#b7c4e3"/><rect x="396.31" y="340.85" width="6.06" height="11.75" fill="#b7c4e3"/><rect x="402.07" y="340.85" width="6.06" height="11.75" fill="#b7c4e3"/><rect x="407.84" y="340.85" width="6.06" height="11.75" fill="#c6d3e5"/><rect x="413.60" y="340.85" width="6.06" height="11.75" fill="#c6d3e5"/><rect x="419.36" y="340.85" width="6.06" height="11.75" fill="#c6d3e5"/><rect x="425.12" y="340.85" width="6.06" height="11.75" fill="#b7c4e3"/><rect x="430.89" y="340.85" width="6.06" height="11.75" fill="#b7c4e3"/><rect x="436.65" y="340.85" width="6.06" height="11.75" fill="#b7c4e3"/><rect x="442.41" y="340.85" width="6.06" height="11.75" fill="#c6d3e5"/><rect x="448.18" y="340.85" width="6.06" height="11.75" fill="#b7c4e3"/><rect x="453.94" y="340.85" width="6.06" height="11.75" fill="#afb3dd"/><rect x="459.70" y="340.85" width="6.06" height="11.75" fill="#b7c4e3"/><rect x="465.46" y="340.85" width="6.06" height="11.75" fill="#c6d3e5"/><rect x="471.23" y="340.85" width="6.06" height="11.75" fill="#b7c4e3"/><rect x="476.99" y="340.85" width="6.06" height="11.75" fill="#c6d3e5"/><rect x="482.75" y="340.85" width="6.06" height="11.75" fill="#b7c4e3"/><rect x="488.51" y="340.85" width="6.06" height="11.75" fill="#b7c4e3"/><rect x="494.27" y="340.85" width="6.06" height="11.75" fill="#afb3dd"/><rect x="500.04" y="340.85" width="6.06" height="11.75" fill="#b7c4e3"/><rect x="367.5" y="214.9" width="138.3" height="137.4" fill="none" stroke="#777" stroke-width="0.9"/><rect x="521.3" y="216.8" width="136.30000000000007" height="136.3" fill="#c6d3e5"/><rect x="521.30" y="216.80" width="11.66" height="17.34" fill="#c6d3e5"/><rect x="532.66" y="216.80" width="11.66" height="17.34" fill="#c6d3e5"/><rect x="544.02" y="216.80" width="11.66" height="17.34" fill="#afb3dd"/><rect x="555.38" y="216.80" width="11.66" height="17.34" fill="#c6d3e5"/><rect x="566.73" y="216.80" width="11.66" height="17.34" fill="#c6d3e5"/><rect x="578.09" y="216.80" width="11.66" height="17.34" fill="#afb3dd"/><rect x="589.45" y="216.80" width="11.66" height="17.34" fill="#b7c4e3"/><rect x="600.81" y="216.80" width="11.66" height="17.34" fill="#c6d3e5"/><rect x="612.17" y="216.80" width="11.66" height="17.34" fill="#c6d3e5"/><rect x="623.52" y="216.80" width="11.66" height="17.34" fill="#c6d3e5"/><rect x="634.88" y="216.80" width="11.66" height="17.34" fill="#b7c4e3"/><rect x="646.24" y="216.80" width="11.66" height="17.34" fill="#9274bf"/><rect x="521.30" y="233.84" width="11.66" height="17.34" fill="#b7c4e3"/><rect x="532.66" y="233.84" width="11.66" height="17.34" fill="#b7c4e3"/><rect x="544.02" y="233.84" width="11.66" height="17.34" fill="#afb3dd"/><rect x="555.38" y="233.84" width="11.66" height="17.34" fill="#b7c4e3"/><rect x="566.73" y="233.84" width="11.66" height="17.34" fill="#b7c4e3"/><rect x="578.09" y="233.84" width="11.66" height="17.34" fill="#b7c4e3"/><rect x="589.45" y="233.84" width="11.66" height="17.34" fill="#c6d3e5"/><rect x="600.81" y="233.84" width="11.66" height="17.34" fill="#b7c4e3"/><rect x="612.17" y="233.84" width="11.66" height="17.34" fill="#b7c4e3"/><rect x="623.52" y="233.84" width="11.66" height="17.34" fill="#c6d3e5"/><rect x="634.88" y="233.84" width="11.66" height="17.34" fill="#b7c4e3"/><rect x="646.24" y="233.84" width="11.66" height="17.34" fill="#b7c4e3"/><rect x="521.30" y="250.88" width="11.66" height="17.34" fill="#c6d3e5"/><rect x="532.66" y="250.88" width="11.66" height="17.34" fill="#c6d3e5"/><rect x="544.02" y="250.88" width="11.66" height="17.34" fill="#b7c4e3"/><rect x="555.38" y="250.88" width="11.66" height="17.34" fill="#c6d3e5"/><rect x="566.73" y="250.88" width="11.66" height="17.34" fill="#c6d3e5"/><rect x="578.09" y="250.88" width="11.66" height="17.34" fill="#c6d3e5"/><rect x="589.45" y="250.88" width="11.66" height="17.34" fill="#b7c4e3"/><rect x="600.81" y="250.88" width="11.66" height="17.34" fill="#c6d3e5"/><rect x="612.17" y="250.88" width="11.66" height="17.34" fill="#b7c4e3"/><rect x="623.52" y="250.88" width="11.66" height="17.34" fill="#b7c4e3"/><rect x="634.88" y="250.88" width="11.66" height="17.34" fill="#b7c4e3"/><rect x="646.24" y="250.88" width="11.66" height="17.34" fill="#b7c4e3"/><rect x="521.30" y="267.91" width="11.66" height="17.34" fill="#c6d3e5"/><rect x="532.66" y="267.91" width="11.66" height="17.34" fill="#afb3dd"/><rect x="544.02" y="267.91" width="11.66" height="17.34" fill="#b7c4e3"/><rect x="555.38" y="267.91" width="11.66" height="17.34" fill="#c6d3e5"/><rect x="566.73" y="267.91" width="11.66" height="17.34" fill="#c6d3e5"/><rect x="578.09" y="267.91" width="11.66" height="17.34" fill="#c6d3e5"/><rect x="589.45" y="267.91" width="11.66" height="17.34" fill="#c6d3e5"/><rect x="600.81" y="267.91" width="11.66" height="17.34" fill="#c6d3e5"/><rect x="612.17" y="267.91" width="11.66" height="17.34" fill="#d9dce0"/><rect x="623.52" y="267.91" width="11.66" height="17.34" fill="#c6d3e5"/><rect x="634.88" y="267.91" width="11.66" height="17.34" fill="#c6d3e5"/><rect x="646.24" y="267.91" width="11.66" height="17.34" fill="#c6d3e5"/><rect x="521.30" y="284.95" width="11.66" height="17.34" fill="#c6d3e5"/><rect x="532.66" y="284.95" width="11.66" height="17.34" fill="#c6d3e5"/><rect x="544.02" y="284.95" width="11.66" height="17.34" fill="#b7c4e3"/><rect x="555.38" y="284.95" width="11.66" height="17.34" fill="#c6d3e5"/><rect x="566.73" y="284.95" width="11.66" height="17.34" fill="#c6d3e5"/><rect x="578.09" y="284.95" width="11.66" height="17.34" fill="#c6d3e5"/><rect x="589.45" y="284.95" width="11.66" height="17.34" fill="#c6d3e5"/><rect x="600.81" y="284.95" width="11.66" height="17.34" fill="#c6d3e5"/><rect x="612.17" y="284.95" width="11.66" height="17.34" fill="#c6d3e5"/><rect x="623.52" y="284.95" width="11.66" height="17.34" fill="#b7c4e3"/><rect x="634.88" y="284.95" width="11.66" height="17.34" fill="#b7c4e3"/><rect x="646.24" y="284.95" width="11.66" height="17.34" fill="#c6d3e5"/><rect x="521.30" y="301.99" width="11.66" height="17.34" fill="#c6d3e5"/><rect x="532.66" y="301.99" width="11.66" height="17.34" fill="#b7c4e3"/><rect x="544.02" y="301.99" width="11.66" height="17.34" fill="#c6d3e5"/><rect x="555.38" y="301.99" width="11.66" height="17.34" fill="#c6d3e5"/><rect x="566.73" y="301.99" width="11.66" height="17.34" fill="#b7c4e3"/><rect x="578.09" y="301.99" width="11.66" height="17.34" fill="#c6d3e5"/><rect x="589.45" y="301.99" width="11.66" height="17.34" fill="#c6d3e5"/><rect x="600.81" y="301.99" width="11.66" height="17.34" fill="#c6d3e5"/><rect x="612.17" y="301.99" width="11.66" height="17.34" fill="#c6d3e5"/><rect x="623.52" y="301.99" width="11.66" height="17.34" fill="#c6d3e5"/><rect x="634.88" y="301.99" width="11.66" height="17.34" fill="#c6d3e5"/><rect x="646.24" y="301.99" width="11.66" height="17.34" fill="#b7c4e3"/><rect x="521.30" y="319.03" width="11.66" height="17.34" fill="#c6d3e5"/><rect x="532.66" y="319.03" width="11.66" height="17.34" fill="#c6d3e5"/><rect x="544.02" y="319.03" width="11.66" height="17.34" fill="#c6d3e5"/><rect x="555.38" y="319.03" width="11.66" height="17.34" fill="#c6d3e5"/><rect x="566.73" y="319.03" width="11.66" height="17.34" fill="#c6d3e5"/><rect x="578.09" y="319.03" width="11.66" height="17.34" fill="#c6d3e5"/><rect x="589.45" y="319.03" width="11.66" height="17.34" fill="#c6d3e5"/><rect x="600.81" y="319.03" width="11.66" height="17.34" fill="#c6d3e5"/><rect x="612.17" y="319.03" width="11.66" height="17.34" fill="#b7c4e3"/><rect x="623.52" y="319.03" width="11.66" height="17.34" fill="#c6d3e5"/><rect x="634.88" y="319.03" width="11.66" height="17.34" fill="#c6d3e5"/><rect x="646.24" y="319.03" width="11.66" height="17.34" fill="#d9dce0"/><rect x="521.30" y="336.06" width="11.66" height="17.34" fill="#d9dce0"/><rect x="532.66" y="336.06" width="11.66" height="17.34" fill="#c6d3e5"/><rect x="544.02" y="336.06" width="11.66" height="17.34" fill="#c6d3e5"/><rect x="555.38" y="336.06" width="11.66" height="17.34" fill="#c6d3e5"/><rect x="566.73" y="336.06" width="11.66" height="17.34" fill="#c6d3e5"/><rect x="578.09" y="336.06" width="11.66" height="17.34" fill="#c6d3e5"/><rect x="589.45" y="336.06" width="11.66" height="17.34" fill="#c6d3e5"/><rect x="600.81" y="336.06" width="11.66" height="17.34" fill="#c6d3e5"/><rect x="612.17" y="336.06" width="11.66" height="17.34" fill="#c6d3e5"/><rect x="623.52" y="336.06" width="11.66" height="17.34" fill="#d9dce0"/><rect x="634.88" y="336.06" width="11.66" height="17.34" fill="#c6d3e5"/><rect x="646.24" y="336.06" width="11.66" height="17.34" fill="#c6d3e5"/><rect x="521.3" y="216.8" width="136.30000000000007" height="136.3" fill="none" stroke="#777" stroke-width="0.9"/><rect x="176.6" y="34.00" width="11.099999999999994" height="9.43" fill="#6a2c9e"/><rect x="176.6" y="43.13" width="11.099999999999994" height="9.43" fill="#7640a8"/><rect x="176.6" y="52.27" width="11.099999999999994" height="9.43" fill="#8256b2"/><rect x="176.6" y="61.40" width="11.099999999999994" height="9.43" fill="#8f6abb"/><rect x="176.6" y="70.53" width="11.099999999999994" height="9.43" fill="#9b80c5"/><rect x="176.6" y="79.67" width="11.099999999999994" height="9.43" fill="#a796ce"/><rect x="176.6" y="88.80" width="11.099999999999994" height="9.43" fill="#b1acd8"/><rect x="176.6" y="97.93" width="11.099999999999994" height="9.43" fill="#b9c6e3"/><rect x="176.6" y="107.07" width="11.099999999999994" height="9.43" fill="#c2d0e6"/><rect x="176.6" y="116.20" width="11.099999999999994" height="9.43" fill="#ccd6e4"/><rect x="176.6" y="125.33" width="11.099999999999994" height="9.43" fill="#d5d9e0"/><rect x="176.6" y="134.47" width="11.099999999999994" height="9.43" fill="#dddcde"/><rect x="176.6" y="143.60" width="11.099999999999994" height="9.43" fill="#e6dfdc"/><rect x="176.6" y="152.73" width="11.099999999999994" height="9.43" fill="#efe3da"/><rect x="176.6" y="161.87" width="11.099999999999994" height="9.43" fill="#fbe8d8"/><rect x="176.6" y="34.0" width="11.099999999999994" height="137.0" fill="none" stroke="#9a9590" stroke-width="0.8"/><rect x="176.6" y="216.10" width="11.099999999999994" height="9.49" fill="#6a2c9e"/><rect x="176.6" y="225.29" width="11.099999999999994" height="9.49" fill="#7640a8"/><rect x="176.6" y="234.49" width="11.099999999999994" height="9.49" fill="#8256b2"/><rect x="176.6" y="243.68" width="11.099999999999994" height="9.49" fill="#8f6abb"/><rect x="176.6" y="252.87" width="11.099999999999994" height="9.49" fill="#9b80c5"/><rect x="176.6" y="262.07" width="11.099999999999994" height="9.49" fill="#a796ce"/><rect x="176.6" y="271.26" width="11.099999999999994" height="9.49" fill="#b1acd8"/><rect x="176.6" y="280.45" width="11.099999999999994" height="9.49" fill="#b9c6e3"/><rect x="176.6" y="289.65" width="11.099999999999994" height="9.49" fill="#c2d0e6"/><rect x="176.6" y="298.84" width="11.099999999999994" height="9.49" fill="#ccd6e4"/><rect x="176.6" y="308.03" width="11.099999999999994" height="9.49" fill="#d5d9e0"/><rect x="176.6" y="317.23" width="11.099999999999994" height="9.49" fill="#dddcde"/><rect x="176.6" y="326.42" width="11.099999999999994" height="9.49" fill="#e6dfdc"/><rect x="176.6" y="335.61" width="11.099999999999994" height="9.49" fill="#efe3da"/><rect x="176.6" y="344.81" width="11.099999999999994" height="9.49" fill="#fbe8d8"/><rect x="176.6" y="216.1" width="11.099999999999994" height="137.9" fill="none" stroke="#9a9590" stroke-width="0.8"/><rect x="670.1" y="33.10" width="10.799999999999955" height="9.46" fill="#6a2c9e"/><rect x="670.1" y="42.26" width="10.799999999999955" height="9.46" fill="#7640a8"/><rect x="670.1" y="51.42" width="10.799999999999955" height="9.46" fill="#8256b2"/><rect x="670.1" y="60.58" width="10.799999999999955" height="9.46" fill="#8f6abb"/><rect x="670.1" y="69.74" width="10.799999999999955" height="9.46" fill="#9b80c5"/><rect x="670.1" y="78.90" width="10.799999999999955" height="9.46" fill="#a796ce"/><rect x="670.1" y="88.06" width="10.799999999999955" height="9.46" fill="#b1acd8"/><rect x="670.1" y="97.22" width="10.799999999999955" height="9.46" fill="#b9c6e3"/><rect x="670.1" y="106.38" width="10.799999999999955" height="9.46" fill="#c2d0e6"/><rect x="670.1" y="115.54" width="10.799999999999955" height="9.46" fill="#ccd6e4"/><rect x="670.1" y="124.70" width="10.799999999999955" height="9.46" fill="#d5d9e0"/><rect x="670.1" y="133.86" width="10.799999999999955" height="9.46" fill="#dddcde"/><rect x="670.1" y="143.02" width="10.799999999999955" height="9.46" fill="#e6dfdc"/><rect x="670.1" y="152.18" width="10.799999999999955" height="9.46" fill="#efe3da"/><rect x="670.1" y="161.34" width="10.799999999999955" height="9.46" fill="#fbe8d8"/><rect x="670.1" y="33.1" width="10.799999999999955" height="137.4" fill="none" stroke="#9a9590" stroke-width="0.8"/><rect x="670.3" y="215.20" width="11.0" height="9.57" fill="#6a2c9e"/><rect x="670.3" y="224.47" width="11.0" height="9.57" fill="#7640a8"/><rect x="670.3" y="233.73" width="11.0" height="9.57" fill="#8256b2"/><rect x="670.3" y="243.00" width="11.0" height="9.57" fill="#8f6abb"/><rect x="670.3" y="252.27" width="11.0" height="9.57" fill="#9b80c5"/><rect x="670.3" y="261.53" width="11.0" height="9.57" fill="#a796ce"/><rect x="670.3" y="270.80" width="11.0" height="9.57" fill="#b1acd8"/><rect x="670.3" y="280.07" width="11.0" height="9.57" fill="#b9c6e3"/><rect x="670.3" y="289.33" width="11.0" height="9.57" fill="#c2d0e6"/><rect x="670.3" y="298.60" width="11.0" height="9.57" fill="#ccd6e4"/><rect x="670.3" y="307.87" width="11.0" height="9.57" fill="#d5d9e0"/><rect x="670.3" y="317.13" width="11.0" height="9.57" fill="#dddcde"/><rect x="670.3" y="326.40" width="11.0" height="9.57" fill="#e6dfdc"/><rect x="670.3" y="335.67" width="11.0" height="9.57" fill="#efe3da"/><rect x="670.3" y="344.93" width="11.0" height="9.57" fill="#fbe8d8"/><rect x="670.3" y="215.2" width="11.0" height="139.0" fill="none" stroke="#9a9590" stroke-width="0.8"/></g><g shape-rendering="auto" text-rendering="geometricPrecision"><text x="-0.3" y="9.6" font-size="13" font-weight="bold" text-anchor="start" >a)</text><text x="196.0" y="9.6" font-size="13" font-weight="bold" text-anchor="start" >b)</text><text x="352.2" y="9.6" font-size="13" font-weight="bold" text-anchor="start" >c)</text><text x="28" y="15.5" font-size="10.6" font-weight="bold" text-anchor="start" >No bias + Static oxidation</text><text x="28" y="28.0" font-size="10.6" font-weight="bold" text-anchor="start" >4.2 mbar, 10 min</text><text x="213" y="15.5" font-size="10.6" font-weight="bold" text-anchor="start" >SEBi +&#160; Static oxidation</text><text x="213" y="28.0" font-size="10.6" font-weight="bold" text-anchor="start" >4.2 mbar, 10 min</text><text x="366" y="15.5" font-size="10.6" font-weight="bold" text-anchor="start" >SEBi +&#160; Dynamic oxidation</text><text x="366" y="28.0" font-size="10.6" font-weight="bold" text-anchor="start" >0.5 mbar, 30 min</text><text x="524.0" y="24.8" font-size="10.75" text-anchor="start" >Zoomed 40x40 mm<tspan font-size="8.2" dy="-4.6">2</tspan></text><text x="165.2" y="28.5" font-size="9.2" text-anchor="start" >&#916;R<tspan font-size="6.2" dy="2">N</tspan><tspan dy="-2">, k&#937;</tspan></text><text x="658.8" y="28.5" font-size="9.2" text-anchor="start" >&#916;R<tspan font-size="6.2" dy="2">N</tspan><tspan dy="-2">, k&#937;</tspan></text><text x="191.6" y="40.4" font-size="9.2" text-anchor="start" >15</text><text x="191.6" y="103.0" font-size="9.2" text-anchor="start" >0</text><text x="191.6" y="170.5" font-size="9.2" text-anchor="start" >-15</text><text x="683.6" y="40.4" font-size="9.2" text-anchor="start" >15</text><text x="683.6" y="103.0" font-size="9.2" text-anchor="start" >0</text><text x="683.6" y="170.5" font-size="9.2" text-anchor="start" >-15</text><text x="23.8" y="40.5" font-size="9.2" text-anchor="end" >35</text><text x="23.8" y="73.89999999999999" font-size="9.2" text-anchor="end" >20</text><text x="23.8" y="105.3" font-size="9.2" text-anchor="end" >0</text><text x="23.8" y="138.70000000000002" font-size="9.2" text-anchor="end" >-20</text><text x="23.8" y="170.70000000000002" font-size="9.2" text-anchor="end" >-35</text><text x="0" y="0" font-size="9.3" text-anchor="middle" transform="translate(7.6,99.2) rotate(-90)">Position Y, mm</text><text x="165.2" y="210.7" font-size="9.2" text-anchor="start" >&#916;R<tspan font-size="6.2" dy="2">N</tspan><tspan dy="-2">, k&#937;</tspan></text><text x="658.8" y="209.7" font-size="9.2" text-anchor="start" >&#916;R<tspan font-size="6.2" dy="2">N</tspan><tspan dy="-2">, k&#937;</tspan></text><text x="191.6" y="223.20000000000002" font-size="9.2" text-anchor="start" >15</text><text x="191.6" y="285.8" font-size="9.2" text-anchor="start" >0</text><text x="191.6" y="353.3" font-size="9.2" text-anchor="start" >-15</text><text x="683.6" y="223.20000000000002" font-size="9.2" text-anchor="start" >15</text><text x="683.6" y="285.8" font-size="9.2" text-anchor="start" >0</text><text x="683.6" y="353.3" font-size="9.2" text-anchor="start" >-15</text><text x="23.8" y="223.3" font-size="9.2" text-anchor="end" >35</text><text x="23.8" y="256.7" font-size="9.2" text-anchor="end" >20</text><text x="23.8" y="288.1" font-size="9.2" text-anchor="end" >0</text><text x="23.8" y="321.5" font-size="9.2" text-anchor="end" >-20</text><text x="23.8" y="353.5" font-size="9.2" text-anchor="end" >-35</text><text x="0" y="0" font-size="9.3" text-anchor="middle" transform="translate(7.6,282.0) rotate(-90)">Position Y, mm</text><text x="97.55000000000001" y="194.7" font-size="9.3" text-anchor="middle" >Position X, mm</text><text x="215.5" y="183.7" font-size="9.2" text-anchor="middle" >-35</text><text x="249.29999999999998" y="183.7" font-size="9.2" text-anchor="middle" >-20</text><text x="283.0" y="183.7" font-size="9.2" text-anchor="middle" >0</text><text x="315.29999999999995" y="183.7" font-size="9.2" text-anchor="middle" >20</text><text x="349.79999999999995" y="183.7" font-size="9.2" text-anchor="middle" >35</text><text x="282.79999999999995" y="194.7" font-size="9.3" text-anchor="middle" >Position X, mm</text><text x="369.3" y="183.7" font-size="9.2" text-anchor="middle" >-35</text><text x="403.1" y="183.7" font-size="9.2" text-anchor="middle" >-20</text><text x="436.8" y="183.7" font-size="9.2" text-anchor="middle" >0</text><text x="469.1" y="183.7" font-size="9.2" text-anchor="middle" >20</text><text x="503.6" y="183.7" font-size="9.2" text-anchor="middle" >35</text><text x="436.65" y="194.7" font-size="9.3" text-anchor="middle" >Position X, mm</text><text x="521.0" y="183.7" font-size="9.2" text-anchor="middle" >-20</text><text x="554.3" y="183.7" font-size="9.2" text-anchor="middle" >-10</text><text x="588.5999999999999" y="183.7" font-size="9.2" text-anchor="middle" >0</text><text x="620.5999999999999" y="183.7" font-size="9.2" text-anchor="middle" >10</text><text x="654.8" y="183.7" font-size="9.2" text-anchor="middle" >20</text><text x="589.45" y="194.7" font-size="9.3" text-anchor="middle" >Position X, mm</text><text x="30.1" y="365.79999999999995" font-size="9.2" text-anchor="middle" >-35</text><text x="63.900000000000006" y="365.79999999999995" font-size="9.2" text-anchor="middle" >-20</text><text x="97.6" y="365.79999999999995" font-size="9.2" text-anchor="middle" >0</text><text x="129.9" y="365.79999999999995" font-size="9.2" text-anchor="middle" >20</text><text x="164.4" y="365.79999999999995" font-size="9.2" text-anchor="middle" >35</text><text x="97.55000000000001" y="377.5" font-size="9.3" text-anchor="middle" >Position X, mm</text><text x="215.5" y="365.79999999999995" font-size="9.2" text-anchor="middle" >-35</text><text x="249.29999999999998" y="365.79999999999995" font-size="9.2" text-anchor="middle" >-20</text><text x="283.0" y="365.79999999999995" font-size="9.2" text-anchor="middle" >0</text><text x="315.29999999999995" y="365.79999999999995" font-size="9.2" text-anchor="middle" >20</text><text x="349.79999999999995" y="365.79999999999995" font-size="9.2" text-anchor="middle" >35</text><text x="282.79999999999995" y="377.5" font-size="9.3" text-anchor="middle" >Position X, mm</text><text x="369.3" y="365.79999999999995" font-size="9.2" text-anchor="middle" >-35</text><text x="403.1" y="365.79999999999995" font-size="9.2" text-anchor="middle" >-20</text><text x="436.8" y="365.79999999999995" font-size="9.2" text-anchor="middle" >0</text><text x="469.1" y="365.79999999999995" font-size="9.2" text-anchor="middle" >20</text><text x="503.6" y="365.79999999999995" font-size="9.2" text-anchor="middle" >35</text><text x="436.65" y="377.5" font-size="9.3" text-anchor="middle" >Position X, mm</text><text x="521.0" y="365.79999999999995" font-size="9.2" text-anchor="middle" >-20</text><text x="554.3" y="365.79999999999995" font-size="9.2" text-anchor="middle" >-10</text><text x="588.5999999999999" y="365.79999999999995" font-size="9.2" text-anchor="middle" >0</text><text x="620.5999999999999" y="365.79999999999995" font-size="9.2" text-anchor="middle" >10</text><text x="654.8" y="365.79999999999995" font-size="9.2" text-anchor="middle" >20</text><text x="589.45" y="377.5" font-size="9.3" text-anchor="middle" >Position X, mm</text><text x="61.3" y="107.6" font-size="13.7" font-weight="bold" text-anchor="start" >CV<tspan font-size="8.2" dy="3.0">R</tspan><tspan font-size="5.2" dy="-1.2">N</tspan><tspan dy="-1.8"> = 16%</tspan></text><text x="251.2" y="110.4" font-size="13.7" font-weight="bold" text-anchor="start" >CV<tspan font-size="8.2" dy="3.0">R</tspan><tspan font-size="5.2" dy="-1.2">N</tspan><tspan dy="-1.8"> = 8%</tspan></text><text x="439.8" y="48.9" font-size="13.7" font-weight="bold" text-anchor="start" >CV<tspan font-size="8.2" dy="3.0">R</tspan><tspan font-size="5.2" dy="-1.2">N</tspan><tspan dy="-1.8"> = 6%</tspan></text><text x="550.9" y="106.7" font-size="13.7" font-weight="bold" text-anchor="start" >CV<tspan font-size="8.2" dy="3.0">R</tspan><tspan font-size="5.2" dy="-1.2">N</tspan><tspan dy="-1.8"> = 4.1%</tspan></text><text x="62.2" y="290.6" font-size="13.7" font-weight="bold" text-anchor="start" >CV<tspan font-size="8.2" dy="3.0">R</tspan><tspan font-size="5.2" dy="-1.2">N</tspan><tspan dy="-1.8"> = 14%</tspan></text><text x="251.8" y="290.1" font-size="13.7" font-weight="bold" text-anchor="start" >CV<tspan font-size="8.2" dy="3.0">R</tspan><tspan font-size="5.2" dy="-1.2">N</tspan><tspan dy="-1.8"> = 6%</tspan></text><text x="439.7" y="231.3" font-size="13.7" font-weight="bold" text-anchor="start" >CV<tspan font-size="8.2" dy="3.0">R</tspan><tspan font-size="5.2" dy="-1.2">N</tspan><tspan dy="-1.8"> = 4%</tspan></text><text x="551.8" y="290.6" font-size="13.7" font-weight="bold" text-anchor="start" >CV<tspan font-size="8.2" dy="3.0">R</tspan><tspan font-size="5.2" dy="-1.2">N</tspan><tspan dy="-1.8"> = 2.3%</tspan></text><text x="35.2" y="144.2" font-size="9.35" text-anchor="start" >A<tspan font-size="5.9" dy="1.6">nom</tspan><tspan dy="-1.6"> = 0.025 &#181;m</tspan><tspan font-size="6.3" dy="-3.6">2</tspan></text><text x="35.2" y="155.2" font-size="9.35" text-anchor="start" >W<tspan font-size="5.9" dy="1.6">bot</tspan><tspan dy="-1.6"> = 130 nm, W</tspan><tspan font-size="5.9" dy="1.6">top</tspan><tspan dy="-1.6"> = 170 nm</tspan></text><text x="35.2" y="166.1" font-size="9.35" text-anchor="start" >R<tspan font-size="6.1" dy="1.8" dx="0.4">N</tspan><tspan dy="-1.8" dx="-1.2"> = 20 k&#937;</tspan></text><text x="220.54999999999998" y="144.2" font-size="9.35" text-anchor="start" >A<tspan font-size="5.9" dy="1.6">nom</tspan><tspan dy="-1.6"> = 0.025 &#181;m</tspan><tspan font-size="6.3" dy="-3.6">2</tspan></text><text x="220.54999999999998" y="155.2" font-size="9.35" text-anchor="start" >W<tspan font-size="5.9" dy="1.6">bot</tspan><tspan dy="-1.6"> = 130 nm, W</tspan><tspan font-size="5.9" dy="1.6">top</tspan><tspan dy="-1.6"> = 170 nm</tspan></text><text x="220.54999999999998" y="166.1" font-size="9.35" text-anchor="start" >R<tspan font-size="6.1" dy="1.8" dx="0.4">N</tspan><tspan dy="-1.8" dx="-1.2"> = 18 k&#937;</tspan></text><text x="374.9" y="144.2" font-size="9.35" text-anchor="start" >A<tspan font-size="5.9" dy="1.6">nom</tspan><tspan dy="-1.6"> = 0.025 &#181;m</tspan><tspan font-size="6.3" dy="-3.6">2</tspan></text><text x="374.9" y="155.2" font-size="9.35" text-anchor="start" >W<tspan font-size="5.9" dy="1.6">bot</tspan><tspan dy="-1.6"> = 130 nm, W</tspan><tspan font-size="5.9" dy="1.6">top</tspan><tspan dy="-1.6"> = 170 nm</tspan></text><text x="374.9" y="166.1" font-size="9.35" text-anchor="start" >R<tspan font-size="6.1" dy="1.8" dx="0.4">N</tspan><tspan dy="-1.8" dx="-1.2"> = 13 k&#937;</tspan></text><text x="527.0" y="144.2" font-size="9.35" text-anchor="start" >A<tspan font-size="5.9" dy="1.6">nom</tspan><tspan dy="-1.6"> = 0.025 &#181;m</tspan><tspan font-size="6.3" dy="-3.6">2</tspan></text><text x="527.0" y="155.2" font-size="9.35" text-anchor="start" >W<tspan font-size="5.9" dy="1.6">bot</tspan><tspan dy="-1.6"> = 130 nm, W</tspan><tspan font-size="5.9" dy="1.6">top</tspan><tspan dy="-1.6"> = 170 nm</tspan></text><text x="527.0" y="166.1" font-size="9.35" text-anchor="start" >R<tspan font-size="6.1" dy="1.8" dx="0.4">N</tspan><tspan dy="-1.8" dx="-1.2"> = 13 k&#937;</tspan></text><text x="35.2" y="325.79999999999995" font-size="9.35" text-anchor="start" >A<tspan font-size="5.9" dy="1.6">nom</tspan><tspan dy="-1.6"> = 0.090 &#181;m</tspan><tspan font-size="6.3" dy="-3.6">2</tspan></text><text x="35.2" y="336.79999999999995" font-size="9.35" text-anchor="start" >W<tspan font-size="5.9" dy="1.6">bot</tspan><tspan dy="-1.6"> = 130 nm, W</tspan><tspan font-size="5.9" dy="1.6">top</tspan><tspan dy="-1.6"> = 670 nm</tspan></text><text x="35.2" y="347.69999999999993" font-size="9.35" text-anchor="start" >R<tspan font-size="6.1" dy="1.8" dx="0.4">N</tspan><tspan dy="-1.8" dx="-1.2"> = 8 k&#937;</tspan></text><text x="220.54999999999998" y="325.79999999999995" font-size="9.35" text-anchor="start" >A<tspan font-size="5.9" dy="1.6">nom</tspan><tspan dy="-1.6"> = 0.090 &#181;m</tspan><tspan font-size="6.3" dy="-3.6">2</tspan></text><text x="220.54999999999998" y="336.79999999999995" font-size="9.35" text-anchor="start" >W<tspan font-size="5.9" dy="1.6">bot</tspan><tspan dy="-1.6"> = 130 nm, W</tspan><tspan font-size="5.9" dy="1.6">top</tspan><tspan dy="-1.6"> = 670 nm</tspan></text><text x="220.54999999999998" y="347.69999999999993" font-size="9.35" text-anchor="start" >R<tspan font-size="6.1" dy="1.8" dx="0.4">N</tspan><tspan dy="-1.8" dx="-1.2"> = 5.3 k&#937;</tspan></text><text x="374.9" y="325.79999999999995" font-size="9.35" text-anchor="start" >A<tspan font-size="5.9" dy="1.6">nom</tspan><tspan dy="-1.6"> = 0.090 &#181;m</tspan><tspan font-size="6.3" dy="-3.6">2</tspan></text><text x="374.9" y="336.79999999999995" font-size="9.35" text-anchor="start" >W<tspan font-size="5.9" dy="1.6">bot</tspan><tspan dy="-1.6"> = 130 nm, W</tspan><tspan font-size="5.9" dy="1.6">top</tspan><tspan dy="-1.6"> = 670 nm</tspan></text><text x="374.9" y="347.69999999999993" font-size="9.35" text-anchor="start" >R<tspan font-size="6.1" dy="1.8" dx="0.4">N</tspan><tspan dy="-1.8" dx="-1.2"> = 3.3 k&#937;</tspan></text><text x="528.0" y="325.79999999999995" font-size="9.35" text-anchor="start" >A<tspan font-size="5.9" dy="1.6">nom</tspan><tspan dy="-1.6"> = 0.090 &#181;m</tspan><tspan font-size="6.3" dy="-3.6">2</tspan></text><text x="528.0" y="336.79999999999995" font-size="9.35" text-anchor="start" >W<tspan font-size="5.9" dy="1.6">bot</tspan><tspan dy="-1.6"> = 130 nm, W</tspan><tspan font-size="5.9" dy="1.6">top</tspan><tspan dy="-1.6"> = 670 nm</tspan></text><text x="528.0" y="347.69999999999993" font-size="9.35" text-anchor="start" >R<tspan font-size="6.1" dy="1.8" dx="0.4">N</tspan><tspan dy="-1.8" dx="-1.2"> = 3.3 k&#937;</tspan></text><path d="M390.9 55.7 H482.3 V146.6 H390.9 Z" fill="none" stroke="#f4661e" stroke-width="1.8" stroke-dasharray="6.8 5.2"/><path d="M403.0 68.9 H468.3 V133.8 H403.0" fill="none" stroke="#4f8f2f" stroke-width="1.8" stroke-dasharray="6.8 5.2"/><path d="M403.0 68.0 V133.8" fill="none" stroke="#4f8f2f" stroke-width="1.8" stroke-dasharray="7.6 4.4"/><path d="M390.9 237.7 H482.3 V328.6 H390.9 Z" fill="none" stroke="#f4661e" stroke-width="1.8" stroke-dasharray="6.8 5.2"/><path d="M403.0 250.1 H468.3 V315.8 H403.0" fill="none" stroke="#4f8f2f" stroke-width="1.8" stroke-dasharray="6.8 5.2"/><path d="M403.0 249.2 V315.8" fill="none" stroke="#4f8f2f" stroke-width="1.8" stroke-dasharray="7.6 4.4"/><text x="455.0" y="66.6" font-size="10" font-weight="bold" text-anchor="start" >5.2%</text><text x="439.2" y="82.2" font-size="10" font-weight="bold" text-anchor="start" >4.1%</text><text x="454.0" y="248.6" font-size="10" font-weight="bold" text-anchor="start" >3.4%</text><text x="439.7" y="262.0" font-size="10" font-weight="bold" text-anchor="start" >2.3%</text></g></svg></body></html>
